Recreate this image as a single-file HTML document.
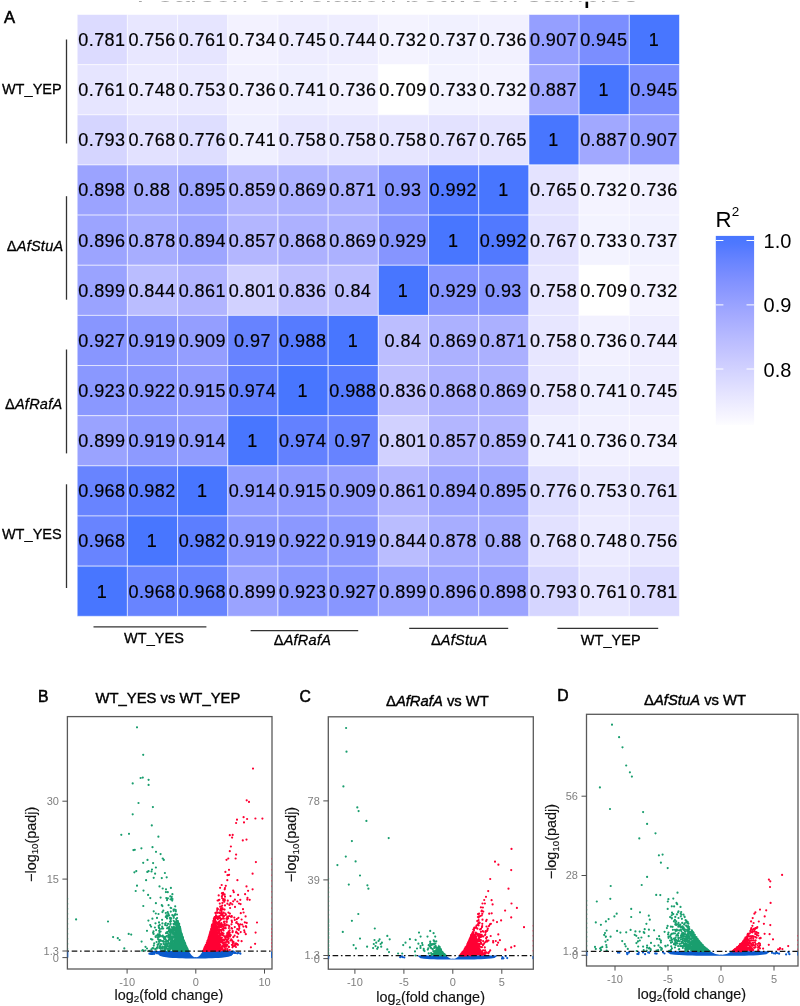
<!DOCTYPE html>
<html lang="en"><head><meta charset="utf-8"><title>Figure: Pearson correlation between samples and volcano plots</title>
<style>html,body{margin:0;padding:0;background:#fff}body{width:800px;height:1006px;overflow:hidden}svg{display:block;will-change:transform}text{font-family:"Liberation Sans", Arial, Helvetica, sans-serif}.cell{font-size:18px;text-anchor:middle;fill:#000;letter-spacing:.45px;stroke:#000;stroke-width:.2}.grp{font-size:14.5px;fill:#000;stroke:#000;stroke-width:.3;letter-spacing:.25px}.it{font-style:italic}.tick{font-size:11px;fill:#7f7f7f}.axt{font-size:14.4px;fill:#111;stroke:#111;stroke-width:.15}.ttl{font-size:14.8px;fill:#000;stroke:#000;stroke-width:.4}.pl{font-size:15.7px;fill:#000;stroke:#000;stroke-width:.55}</style></head><body>
<svg width="800" height="1006" viewBox="0 0 800 1006">
<rect width="800" height="1006" fill="#fff"/>
<text x="387.5" y="1.95" text-anchor="middle" font-size="30" fill="#000">Pearson correlation between samples</text>
<rect x="0" y="0" width="800" height="1.65" fill="#fff"/>
<g stroke="#fff" stroke-width="1" stroke-opacity="0.55">
<rect x="77.20" y="14.50" width="50.19" height="50.15" fill="#dcdbff"/>
<rect x="127.39" y="14.50" width="50.19" height="50.15" fill="#e8e7ff"/>
<rect x="177.58" y="14.50" width="50.19" height="50.15" fill="#e6e5ff"/>
<rect x="227.77" y="14.50" width="50.19" height="50.15" fill="#f3f2ff"/>
<rect x="277.97" y="14.50" width="50.19" height="50.15" fill="#eeedff"/>
<rect x="328.16" y="14.50" width="50.19" height="50.15" fill="#eeedff"/>
<rect x="378.35" y="14.50" width="50.19" height="50.15" fill="#f4f3ff"/>
<rect x="428.54" y="14.50" width="50.19" height="50.15" fill="#f1f1ff"/>
<rect x="478.73" y="14.50" width="50.19" height="50.15" fill="#f2f1ff"/>
<rect x="528.92" y="14.50" width="50.19" height="50.15" fill="#959fff"/>
<rect x="579.12" y="14.50" width="50.19" height="50.15" fill="#7b8eff"/>
<rect x="629.31" y="14.50" width="50.19" height="50.15" fill="#4876ff"/>
<rect x="77.20" y="64.65" width="50.19" height="50.15" fill="#e6e5ff"/>
<rect x="127.39" y="64.65" width="50.19" height="50.15" fill="#ecebff"/>
<rect x="177.58" y="64.65" width="50.19" height="50.15" fill="#eae9ff"/>
<rect x="227.77" y="64.65" width="50.19" height="50.15" fill="#f2f1ff"/>
<rect x="277.97" y="64.65" width="50.19" height="50.15" fill="#efefff"/>
<rect x="328.16" y="64.65" width="50.19" height="50.15" fill="#f2f1ff"/>
<rect x="378.35" y="64.65" width="50.19" height="50.15" fill="#ffffff"/>
<rect x="428.54" y="64.65" width="50.19" height="50.15" fill="#f3f3ff"/>
<rect x="478.73" y="64.65" width="50.19" height="50.15" fill="#f4f3ff"/>
<rect x="528.92" y="64.65" width="50.19" height="50.15" fill="#a1a8ff"/>
<rect x="579.12" y="64.65" width="50.19" height="50.15" fill="#4876ff"/>
<rect x="629.31" y="64.65" width="50.19" height="50.15" fill="#7b8eff"/>
<rect x="77.20" y="114.80" width="50.19" height="50.15" fill="#d5d5ff"/>
<rect x="127.39" y="114.80" width="50.19" height="50.15" fill="#e2e1ff"/>
<rect x="177.58" y="114.80" width="50.19" height="50.15" fill="#dedeff"/>
<rect x="227.77" y="114.80" width="50.19" height="50.15" fill="#efefff"/>
<rect x="277.97" y="114.80" width="50.19" height="50.15" fill="#e7e6ff"/>
<rect x="328.16" y="114.80" width="50.19" height="50.15" fill="#e7e6ff"/>
<rect x="378.35" y="114.80" width="50.19" height="50.15" fill="#e7e6ff"/>
<rect x="428.54" y="114.80" width="50.19" height="50.15" fill="#e3e2ff"/>
<rect x="478.73" y="114.80" width="50.19" height="50.15" fill="#e4e3ff"/>
<rect x="528.92" y="114.80" width="50.19" height="50.15" fill="#4876ff"/>
<rect x="579.12" y="114.80" width="50.19" height="50.15" fill="#a1a8ff"/>
<rect x="629.31" y="114.80" width="50.19" height="50.15" fill="#959fff"/>
<rect x="77.20" y="164.95" width="50.19" height="50.15" fill="#9ba3ff"/>
<rect x="127.39" y="164.95" width="50.19" height="50.15" fill="#a5acff"/>
<rect x="177.58" y="164.95" width="50.19" height="50.15" fill="#9ca5ff"/>
<rect x="227.77" y="164.95" width="50.19" height="50.15" fill="#b2b5ff"/>
<rect x="277.97" y="164.95" width="50.19" height="50.15" fill="#acb1ff"/>
<rect x="328.16" y="164.95" width="50.19" height="50.15" fill="#abb0ff"/>
<rect x="378.35" y="164.95" width="50.19" height="50.15" fill="#8595ff"/>
<rect x="428.54" y="164.95" width="50.19" height="50.15" fill="#5179ff"/>
<rect x="478.73" y="164.95" width="50.19" height="50.15" fill="#4876ff"/>
<rect x="528.92" y="164.95" width="50.19" height="50.15" fill="#e4e3ff"/>
<rect x="579.12" y="164.95" width="50.19" height="50.15" fill="#f4f3ff"/>
<rect x="629.31" y="164.95" width="50.19" height="50.15" fill="#f2f1ff"/>
<rect x="77.20" y="215.10" width="50.19" height="50.15" fill="#9ca4ff"/>
<rect x="127.39" y="215.10" width="50.19" height="50.15" fill="#a7adff"/>
<rect x="177.58" y="215.10" width="50.19" height="50.15" fill="#9da5ff"/>
<rect x="227.77" y="215.10" width="50.19" height="50.15" fill="#b3b6ff"/>
<rect x="277.97" y="215.10" width="50.19" height="50.15" fill="#adb1ff"/>
<rect x="328.16" y="215.10" width="50.19" height="50.15" fill="#acb1ff"/>
<rect x="378.35" y="215.10" width="50.19" height="50.15" fill="#8695ff"/>
<rect x="428.54" y="215.10" width="50.19" height="50.15" fill="#4876ff"/>
<rect x="478.73" y="215.10" width="50.19" height="50.15" fill="#5179ff"/>
<rect x="528.92" y="215.10" width="50.19" height="50.15" fill="#e3e2ff"/>
<rect x="579.12" y="215.10" width="50.19" height="50.15" fill="#f3f3ff"/>
<rect x="629.31" y="215.10" width="50.19" height="50.15" fill="#f1f1ff"/>
<rect x="77.20" y="265.25" width="50.19" height="50.15" fill="#9aa3ff"/>
<rect x="127.39" y="265.25" width="50.19" height="50.15" fill="#babdff"/>
<rect x="177.58" y="265.25" width="50.19" height="50.15" fill="#b1b4ff"/>
<rect x="227.77" y="265.25" width="50.19" height="50.15" fill="#d1d1ff"/>
<rect x="277.97" y="265.25" width="50.19" height="50.15" fill="#bfc0ff"/>
<rect x="328.16" y="265.25" width="50.19" height="50.15" fill="#bcbeff"/>
<rect x="378.35" y="265.25" width="50.19" height="50.15" fill="#4876ff"/>
<rect x="428.54" y="265.25" width="50.19" height="50.15" fill="#8695ff"/>
<rect x="478.73" y="265.25" width="50.19" height="50.15" fill="#8595ff"/>
<rect x="528.92" y="265.25" width="50.19" height="50.15" fill="#e7e6ff"/>
<rect x="579.12" y="265.25" width="50.19" height="50.15" fill="#ffffff"/>
<rect x="629.31" y="265.25" width="50.19" height="50.15" fill="#f4f3ff"/>
<rect x="77.20" y="315.40" width="50.19" height="50.15" fill="#8896ff"/>
<rect x="127.39" y="315.40" width="50.19" height="50.15" fill="#8d9aff"/>
<rect x="177.58" y="315.40" width="50.19" height="50.15" fill="#949eff"/>
<rect x="227.77" y="315.40" width="50.19" height="50.15" fill="#6783ff"/>
<rect x="277.97" y="315.40" width="50.19" height="50.15" fill="#567bff"/>
<rect x="328.16" y="315.40" width="50.19" height="50.15" fill="#4876ff"/>
<rect x="378.35" y="315.40" width="50.19" height="50.15" fill="#bcbeff"/>
<rect x="428.54" y="315.40" width="50.19" height="50.15" fill="#acb1ff"/>
<rect x="478.73" y="315.40" width="50.19" height="50.15" fill="#abb0ff"/>
<rect x="528.92" y="315.40" width="50.19" height="50.15" fill="#e7e6ff"/>
<rect x="579.12" y="315.40" width="50.19" height="50.15" fill="#f2f1ff"/>
<rect x="629.31" y="315.40" width="50.19" height="50.15" fill="#eeedff"/>
<rect x="77.20" y="365.55" width="50.19" height="50.15" fill="#8a98ff"/>
<rect x="127.39" y="365.55" width="50.19" height="50.15" fill="#8b98ff"/>
<rect x="177.58" y="365.55" width="50.19" height="50.15" fill="#909bff"/>
<rect x="227.77" y="365.55" width="50.19" height="50.15" fill="#6381ff"/>
<rect x="277.97" y="365.55" width="50.19" height="50.15" fill="#4876ff"/>
<rect x="328.16" y="365.55" width="50.19" height="50.15" fill="#567bff"/>
<rect x="378.35" y="365.55" width="50.19" height="50.15" fill="#bfc0ff"/>
<rect x="428.54" y="365.55" width="50.19" height="50.15" fill="#adb1ff"/>
<rect x="478.73" y="365.55" width="50.19" height="50.15" fill="#acb1ff"/>
<rect x="528.92" y="365.55" width="50.19" height="50.15" fill="#e7e6ff"/>
<rect x="579.12" y="365.55" width="50.19" height="50.15" fill="#efefff"/>
<rect x="629.31" y="365.55" width="50.19" height="50.15" fill="#eeedff"/>
<rect x="77.20" y="415.70" width="50.19" height="50.15" fill="#9aa3ff"/>
<rect x="127.39" y="415.70" width="50.19" height="50.15" fill="#8d9aff"/>
<rect x="177.58" y="415.70" width="50.19" height="50.15" fill="#909cff"/>
<rect x="227.77" y="415.70" width="50.19" height="50.15" fill="#4876ff"/>
<rect x="277.97" y="415.70" width="50.19" height="50.15" fill="#6381ff"/>
<rect x="328.16" y="415.70" width="50.19" height="50.15" fill="#6783ff"/>
<rect x="378.35" y="415.70" width="50.19" height="50.15" fill="#d1d1ff"/>
<rect x="428.54" y="415.70" width="50.19" height="50.15" fill="#b3b6ff"/>
<rect x="478.73" y="415.70" width="50.19" height="50.15" fill="#b2b5ff"/>
<rect x="528.92" y="415.70" width="50.19" height="50.15" fill="#efefff"/>
<rect x="579.12" y="415.70" width="50.19" height="50.15" fill="#f2f1ff"/>
<rect x="629.31" y="415.70" width="50.19" height="50.15" fill="#f3f2ff"/>
<rect x="77.20" y="465.85" width="50.19" height="50.15" fill="#6884ff"/>
<rect x="127.39" y="465.85" width="50.19" height="50.15" fill="#5c7eff"/>
<rect x="177.58" y="465.85" width="50.19" height="50.15" fill="#4876ff"/>
<rect x="227.77" y="465.85" width="50.19" height="50.15" fill="#909cff"/>
<rect x="277.97" y="465.85" width="50.19" height="50.15" fill="#909bff"/>
<rect x="328.16" y="465.85" width="50.19" height="50.15" fill="#949eff"/>
<rect x="378.35" y="465.85" width="50.19" height="50.15" fill="#b1b4ff"/>
<rect x="428.54" y="465.85" width="50.19" height="50.15" fill="#9da5ff"/>
<rect x="478.73" y="465.85" width="50.19" height="50.15" fill="#9ca5ff"/>
<rect x="528.92" y="465.85" width="50.19" height="50.15" fill="#dedeff"/>
<rect x="579.12" y="465.85" width="50.19" height="50.15" fill="#eae9ff"/>
<rect x="629.31" y="465.85" width="50.19" height="50.15" fill="#e6e5ff"/>
<rect x="77.20" y="516.00" width="50.19" height="50.15" fill="#6884ff"/>
<rect x="127.39" y="516.00" width="50.19" height="50.15" fill="#4876ff"/>
<rect x="177.58" y="516.00" width="50.19" height="50.15" fill="#5c7eff"/>
<rect x="227.77" y="516.00" width="50.19" height="50.15" fill="#8d9aff"/>
<rect x="277.97" y="516.00" width="50.19" height="50.15" fill="#8b98ff"/>
<rect x="328.16" y="516.00" width="50.19" height="50.15" fill="#8d9aff"/>
<rect x="378.35" y="516.00" width="50.19" height="50.15" fill="#babdff"/>
<rect x="428.54" y="516.00" width="50.19" height="50.15" fill="#a7adff"/>
<rect x="478.73" y="516.00" width="50.19" height="50.15" fill="#a5acff"/>
<rect x="528.92" y="516.00" width="50.19" height="50.15" fill="#e2e1ff"/>
<rect x="579.12" y="516.00" width="50.19" height="50.15" fill="#ecebff"/>
<rect x="629.31" y="516.00" width="50.19" height="50.15" fill="#e8e7ff"/>
<rect x="77.20" y="566.15" width="50.19" height="50.15" fill="#4876ff"/>
<rect x="127.39" y="566.15" width="50.19" height="50.15" fill="#6884ff"/>
<rect x="177.58" y="566.15" width="50.19" height="50.15" fill="#6884ff"/>
<rect x="227.77" y="566.15" width="50.19" height="50.15" fill="#9aa3ff"/>
<rect x="277.97" y="566.15" width="50.19" height="50.15" fill="#8a98ff"/>
<rect x="328.16" y="566.15" width="50.19" height="50.15" fill="#8896ff"/>
<rect x="378.35" y="566.15" width="50.19" height="50.15" fill="#9aa3ff"/>
<rect x="428.54" y="566.15" width="50.19" height="50.15" fill="#9ca4ff"/>
<rect x="478.73" y="566.15" width="50.19" height="50.15" fill="#9ba3ff"/>
<rect x="528.92" y="566.15" width="50.19" height="50.15" fill="#d5d5ff"/>
<rect x="579.12" y="566.15" width="50.19" height="50.15" fill="#e6e5ff"/>
<rect x="629.31" y="566.15" width="50.19" height="50.15" fill="#dcdbff"/>
</g>
<g class="cell">
<text x="101.9" y="45.9">0.781</text>
<text x="152.1" y="45.9">0.756</text>
<text x="202.3" y="45.9">0.761</text>
<text x="252.5" y="45.9">0.734</text>
<text x="302.7" y="45.9">0.745</text>
<text x="352.9" y="45.9">0.744</text>
<text x="403.0" y="45.9">0.732</text>
<text x="453.2" y="45.9">0.737</text>
<text x="503.4" y="45.9">0.736</text>
<text x="553.6" y="45.9">0.907</text>
<text x="603.8" y="45.9">0.945</text>
<text x="654.0" y="45.9">1</text>
<text x="101.9" y="96.0">0.761</text>
<text x="152.1" y="96.0">0.748</text>
<text x="202.3" y="96.0">0.753</text>
<text x="252.5" y="96.0">0.736</text>
<text x="302.7" y="96.0">0.741</text>
<text x="352.9" y="96.0">0.736</text>
<text x="403.0" y="96.0">0.709</text>
<text x="453.2" y="96.0">0.733</text>
<text x="503.4" y="96.0">0.732</text>
<text x="553.6" y="96.0">0.887</text>
<text x="603.8" y="96.0">1</text>
<text x="654.0" y="96.0">0.945</text>
<text x="101.9" y="146.2">0.793</text>
<text x="152.1" y="146.2">0.768</text>
<text x="202.3" y="146.2">0.776</text>
<text x="252.5" y="146.2">0.741</text>
<text x="302.7" y="146.2">0.758</text>
<text x="352.9" y="146.2">0.758</text>
<text x="403.0" y="146.2">0.758</text>
<text x="453.2" y="146.2">0.767</text>
<text x="503.4" y="146.2">0.765</text>
<text x="553.6" y="146.2">1</text>
<text x="603.8" y="146.2">0.887</text>
<text x="654.0" y="146.2">0.907</text>
<text x="101.9" y="196.3">0.898</text>
<text x="152.1" y="196.3">0.88</text>
<text x="202.3" y="196.3">0.895</text>
<text x="252.5" y="196.3">0.859</text>
<text x="302.7" y="196.3">0.869</text>
<text x="352.9" y="196.3">0.871</text>
<text x="403.0" y="196.3">0.93</text>
<text x="453.2" y="196.3">0.992</text>
<text x="503.4" y="196.3">1</text>
<text x="553.6" y="196.3">0.765</text>
<text x="603.8" y="196.3">0.732</text>
<text x="654.0" y="196.3">0.736</text>
<text x="101.9" y="246.5">0.896</text>
<text x="152.1" y="246.5">0.878</text>
<text x="202.3" y="246.5">0.894</text>
<text x="252.5" y="246.5">0.857</text>
<text x="302.7" y="246.5">0.868</text>
<text x="352.9" y="246.5">0.869</text>
<text x="403.0" y="246.5">0.929</text>
<text x="453.2" y="246.5">1</text>
<text x="503.4" y="246.5">0.992</text>
<text x="553.6" y="246.5">0.767</text>
<text x="603.8" y="246.5">0.733</text>
<text x="654.0" y="246.5">0.737</text>
<text x="101.9" y="296.6">0.899</text>
<text x="152.1" y="296.6">0.844</text>
<text x="202.3" y="296.6">0.861</text>
<text x="252.5" y="296.6">0.801</text>
<text x="302.7" y="296.6">0.836</text>
<text x="352.9" y="296.6">0.84</text>
<text x="403.0" y="296.6">1</text>
<text x="453.2" y="296.6">0.929</text>
<text x="503.4" y="296.6">0.93</text>
<text x="553.6" y="296.6">0.758</text>
<text x="603.8" y="296.6">0.709</text>
<text x="654.0" y="296.6">0.732</text>
<text x="101.9" y="346.8">0.927</text>
<text x="152.1" y="346.8">0.919</text>
<text x="202.3" y="346.8">0.909</text>
<text x="252.5" y="346.8">0.97</text>
<text x="302.7" y="346.8">0.988</text>
<text x="352.9" y="346.8">1</text>
<text x="403.0" y="346.8">0.84</text>
<text x="453.2" y="346.8">0.869</text>
<text x="503.4" y="346.8">0.871</text>
<text x="553.6" y="346.8">0.758</text>
<text x="603.8" y="346.8">0.736</text>
<text x="654.0" y="346.8">0.744</text>
<text x="101.9" y="396.9">0.923</text>
<text x="152.1" y="396.9">0.922</text>
<text x="202.3" y="396.9">0.915</text>
<text x="252.5" y="396.9">0.974</text>
<text x="302.7" y="396.9">1</text>
<text x="352.9" y="396.9">0.988</text>
<text x="403.0" y="396.9">0.836</text>
<text x="453.2" y="396.9">0.868</text>
<text x="503.4" y="396.9">0.869</text>
<text x="553.6" y="396.9">0.758</text>
<text x="603.8" y="396.9">0.741</text>
<text x="654.0" y="396.9">0.745</text>
<text x="101.9" y="447.1">0.899</text>
<text x="152.1" y="447.1">0.919</text>
<text x="202.3" y="447.1">0.914</text>
<text x="252.5" y="447.1">1</text>
<text x="302.7" y="447.1">0.974</text>
<text x="352.9" y="447.1">0.97</text>
<text x="403.0" y="447.1">0.801</text>
<text x="453.2" y="447.1">0.857</text>
<text x="503.4" y="447.1">0.859</text>
<text x="553.6" y="447.1">0.741</text>
<text x="603.8" y="447.1">0.736</text>
<text x="654.0" y="447.1">0.734</text>
<text x="101.9" y="497.2">0.968</text>
<text x="152.1" y="497.2">0.982</text>
<text x="202.3" y="497.2">1</text>
<text x="252.5" y="497.2">0.914</text>
<text x="302.7" y="497.2">0.915</text>
<text x="352.9" y="497.2">0.909</text>
<text x="403.0" y="497.2">0.861</text>
<text x="453.2" y="497.2">0.894</text>
<text x="503.4" y="497.2">0.895</text>
<text x="553.6" y="497.2">0.776</text>
<text x="603.8" y="497.2">0.753</text>
<text x="654.0" y="497.2">0.761</text>
<text x="101.9" y="547.4">0.968</text>
<text x="152.1" y="547.4">1</text>
<text x="202.3" y="547.4">0.982</text>
<text x="252.5" y="547.4">0.919</text>
<text x="302.7" y="547.4">0.922</text>
<text x="352.9" y="547.4">0.919</text>
<text x="403.0" y="547.4">0.844</text>
<text x="453.2" y="547.4">0.878</text>
<text x="503.4" y="547.4">0.88</text>
<text x="553.6" y="547.4">0.768</text>
<text x="603.8" y="547.4">0.748</text>
<text x="654.0" y="547.4">0.756</text>
<text x="101.9" y="597.5">1</text>
<text x="152.1" y="597.5">0.968</text>
<text x="202.3" y="597.5">0.968</text>
<text x="252.5" y="597.5">0.899</text>
<text x="302.7" y="597.5">0.923</text>
<text x="352.9" y="597.5">0.927</text>
<text x="403.0" y="597.5">0.899</text>
<text x="453.2" y="597.5">0.896</text>
<text x="503.4" y="597.5">0.898</text>
<text x="553.6" y="597.5">0.793</text>
<text x="603.8" y="597.5">0.761</text>
<text x="654.0" y="597.5">0.781</text>
</g>
<g stroke="#333" stroke-width="1.3" fill="none">
<path d="M66.5 39.5V143.5"/>
<path d="M66.5 196.2V299.7"/>
<path d="M66.5 349.5V453.4"/>
<path d="M66.5 484.3V588.0"/>
<path d="M93.5 626.9H206.4"/>
<path d="M250.6 630.6H358.2"/>
<path d="M409.2 628.4H508.2"/>
<path d="M557.4 628.4H658.2"/>
</g>
<g class="grp">
<text letter-spacing=".05" x="61.8" y="93.8" text-anchor="end">WT_YEP</text>
<text x="63.4" y="251.1" text-anchor="end">Δ<tspan class="it">AfStuA</tspan></text>
<text x="62.4" y="409.3" text-anchor="end">Δ<tspan class="it">AfRafA</tspan></text>
<text letter-spacing=".05" x="61.8" y="538.9" text-anchor="end">WT_YES</text>
<text letter-spacing=".05" x="154" y="643" text-anchor="middle">WT_YES</text>
<text x="302.4" y="644.9" text-anchor="middle">Δ<tspan class="it">AfRafA</tspan></text>
<text x="459.2" y="644.9" text-anchor="middle">Δ<tspan class="it">AfStuA</tspan></text>
<text letter-spacing=".05" x="610.8" y="644.9" text-anchor="middle">WT_YEP</text>
</g>
<g class="pl">
<text x="3.9" y="22.9" font-size="16.6">A</text>
<text x="37.9" y="701.6">B</text>
<text x="299.5" y="701.8">C</text>
<text x="557.2" y="701">D</text>
</g>
<defs><linearGradient id="lg" x1="0" y1="0" x2="0" y2="1">
<stop offset="0.0000" stop-color="#4876ff"/>
<stop offset="0.0417" stop-color="#4e78ff"/>
<stop offset="0.0833" stop-color="#5b7dff"/>
<stop offset="0.1250" stop-color="#6683ff"/>
<stop offset="0.1667" stop-color="#7088ff"/>
<stop offset="0.2083" stop-color="#7a8dff"/>
<stop offset="0.2500" stop-color="#8393ff"/>
<stop offset="0.2917" stop-color="#8b98ff"/>
<stop offset="0.3333" stop-color="#939eff"/>
<stop offset="0.3750" stop-color="#9ba4ff"/>
<stop offset="0.4167" stop-color="#a3a9ff"/>
<stop offset="0.4583" stop-color="#aaafff"/>
<stop offset="0.5000" stop-color="#b1b5ff"/>
<stop offset="0.5417" stop-color="#b8bbff"/>
<stop offset="0.5833" stop-color="#bfc0ff"/>
<stop offset="0.6250" stop-color="#c5c6ff"/>
<stop offset="0.6667" stop-color="#ccccff"/>
<stop offset="0.7083" stop-color="#d2d2ff"/>
<stop offset="0.7500" stop-color="#d8d8ff"/>
<stop offset="0.7917" stop-color="#dfdeff"/>
<stop offset="0.8333" stop-color="#e5e4ff"/>
<stop offset="0.8750" stop-color="#ebeaff"/>
<stop offset="0.9167" stop-color="#f1f0ff"/>
<stop offset="0.9583" stop-color="#f7f6ff"/>
<stop offset="1.0000" stop-color="#fdfdff"/>
</linearGradient></defs>
<rect x="715.8" y="235.9" width="38.3" height="189.3" fill="url(#lg)"/>
<g stroke="#fff" stroke-width="1">
<path d="M715.8 240.5h7.6M754.1 240.5h-7.6"/>
<path d="M715.8 304.9h7.6M754.1 304.9h-7.6"/>
<path d="M715.8 369.0h7.6M754.1 369.0h-7.6"/>
</g>
<text x="715.6" y="226.6" font-size="22.2" fill="#000">R<tspan font-size="13.5" dy="-10.2">2</tspan></text>
<g font-size="20" fill="#000">
<text x="763.6" y="248.0">1.0</text>
<text x="763.6" y="312.4">0.9</text>
<text x="763.6" y="376.5">0.8</text>
</g>
<g>
<polygon fill="#199e6e" points="188.7,951.0 187.5,948.8 186.5,946.6 185.6,944.4 184.8,942.2 184.0,939.9 183.3,937.7 182.6,935.5 182.0,933.3 181.4,931.1 180.8,928.9 180.2,926.7 179.7,924.5 179.1,922.2 178.6,920.0 176.9,920.0 176.6,922.2 176.3,924.5 176.0,926.7 175.7,928.9 175.4,931.1 175.0,933.3 174.7,935.5 174.4,937.7 174.0,939.9 173.6,942.2 173.3,944.4 172.8,946.6 172.4,948.8 171.8,951.0"/>
<polygon fill="#ff0033" points="202.9,951.0 204.2,948.5 205.3,946.0 206.3,943.5 207.2,941.0 208.0,938.5 208.8,935.9 209.6,933.4 210.3,930.9 210.9,928.4 211.6,925.9 212.2,923.4 212.8,920.9 213.4,918.4 213.9,915.9 215.7,915.9 216.0,918.4 216.4,920.9 216.7,923.4 217.0,925.9 217.4,928.4 217.7,930.9 218.1,933.4 218.4,935.9 218.8,938.5 219.2,941.0 219.6,943.5 220.1,946.0 220.6,948.5 221.2,951.0"/>
<polygon fill="#0a5acd" points="156.3,951.0 188.7,951.0 189.6,952.5 190.5,953.8 191.4,954.9 192.2,955.8 193.1,956.5 194.0,957.0 194.9,957.3 195.8,957.1 196.7,957.3 197.6,957.0 198.5,956.5 199.4,955.8 200.2,954.9 201.1,953.8 202.0,952.5 202.9,951.0 235.0,951.0 235.0,951.0 231.7,955.8 228.4,956.7 225.1,957.3 221.8,957.7 218.6,958.0 215.3,958.1 212.0,958.3 208.7,958.3 205.5,958.4 202.2,958.4 198.9,958.4 195.6,958.4 192.4,958.4 189.1,958.4 185.8,958.4 182.5,958.3 179.2,958.3 176.0,958.1 172.7,958.0 169.4,957.7 166.1,957.3 162.9,956.7 159.6,955.8 156.3,951.0"/>
<path d="M153.1 953.9h0M154.5 951.8h0M157.3 952.7h0M150.5 953.8h0M151.7 952.1h0M155.6 952.2h0M153.2 952.8h0M160.6 953.1h0M154.4 953.8h0M160.5 954.0h0M149.4 953.7h0M158.7 953.5h0M158.1 953.3h0M151.6 954.0h0M158.9 952.2h0M155.7 952.1h0M152.0 953.2h0M150.8 951.6h0M156.7 953.2h0M160.3 951.7h0M152.9 951.9h0M160.4 953.7h0M231.8 952.8h0M237.7 953.2h0M235.5 953.0h0M232.5 951.8h0M231.9 952.9h0M231.7 953.9h0M233.4 951.6h0M237.3 953.3h0M238.3 952.8h0M240.2 953.4h0M240.4 953.7h0M233.2 952.7h0M232.4 953.2h0M234.4 952.8h0" stroke="#0a5acd" stroke-width="2.2" stroke-linecap="round" fill="none"/>
<path d="M181.5 944.1h0M182.0 943.8h0M184.6 948.7h0M181.2 933.0h0M182.4 949.9h0M175.4 950.5h0M178.8 938.9h0M186.3 950.8h0M186.5 948.6h0M182.5 943.9h0M180.1 942.6h0M180.3 938.6h0M173.3 930.1h0M185.9 948.0h0M179.0 934.4h0M172.6 945.4h0M187.5 951.0h0M168.0 943.8h0M184.6 950.1h0M186.4 947.4h0M165.8 913.0h0M186.7 947.8h0M180.4 932.8h0M184.3 944.2h0M184.3 949.4h0M184.7 944.8h0M163.3 910.6h0M178.3 926.3h0M174.3 929.0h0M172.0 899.2h0M179.8 934.1h0M187.6 950.1h0M183.5 947.8h0M171.5 944.1h0M174.8 941.2h0M179.1 949.1h0M185.9 947.7h0M176.2 918.8h0M173.9 926.6h0M187.4 949.7h0M182.5 947.9h0M175.8 931.2h0M183.1 948.8h0M183.8 948.0h0M182.0 940.1h0M187.2 948.4h0M185.2 944.3h0M182.7 945.7h0M176.8 945.9h0M177.4 938.8h0M187.7 949.3h0M170.6 923.5h0M185.2 950.8h0M180.2 936.0h0M185.3 950.1h0M170.3 924.7h0M167.3 933.0h0M170.8 937.8h0M178.8 944.8h0M179.7 941.3h0M179.9 941.0h0M158.2 939.4h0M179.7 936.1h0M181.2 941.1h0M183.7 950.0h0M180.9 940.5h0M179.2 937.3h0M177.0 922.1h0M182.2 946.9h0M179.1 948.9h0M176.0 944.3h0M182.2 938.5h0M166.7 932.3h0M182.3 945.5h0M185.0 949.3h0M172.6 929.4h0M185.9 947.3h0M185.7 947.3h0M180.4 939.8h0M156.1 930.1h0M187.6 950.1h0M184.3 950.5h0M180.6 946.8h0M185.8 949.3h0M179.6 930.8h0M185.1 950.5h0M178.2 939.6h0M168.4 914.7h0M184.5 943.6h0M179.8 943.7h0M184.9 947.4h0M180.2 942.6h0M179.1 945.3h0M179.0 950.0h0M185.5 949.4h0M175.9 923.5h0M169.3 926.9h0M180.8 943.9h0M173.3 936.4h0M181.2 936.6h0M143.3 906.0h0M179.2 933.1h0M178.0 928.9h0M181.8 944.4h0M184.7 943.4h0M183.1 950.2h0M180.3 946.3h0M184.9 949.2h0M173.4 930.1h0M171.9 943.3h0M184.4 948.1h0M177.0 936.1h0M175.8 929.8h0M178.0 945.5h0M180.0 948.3h0M181.0 942.5h0M181.3 942.2h0M177.5 950.7h0M179.0 945.2h0M180.0 943.3h0M181.8 942.2h0M176.5 921.7h0M185.5 949.4h0M175.2 924.6h0M183.6 948.6h0M182.8 949.4h0M186.1 948.5h0M184.5 946.6h0M183.7 949.7h0M183.7 942.8h0M182.1 942.4h0M182.6 944.9h0M183.5 948.4h0M175.8 942.4h0M178.7 928.8h0M167.6 932.0h0M176.6 946.7h0M179.0 926.0h0M181.2 936.2h0M177.5 930.6h0M185.8 949.5h0M187.5 950.8h0M155.5 923.3h0M178.5 943.0h0M182.2 937.8h0M187.6 949.7h0M181.2 942.7h0M186.2 948.7h0M150.3 898.1h0M178.5 950.3h0M179.8 934.5h0M182.2 942.7h0M184.5 950.8h0M185.0 948.7h0M184.9 945.1h0M184.5 942.8h0M174.1 932.5h0M181.1 939.7h0M166.5 943.0h0M177.6 947.6h0M172.3 933.8h0M165.2 925.1h0M173.9 934.4h0M182.3 936.4h0M185.2 943.8h0M178.8 939.4h0M169.8 918.0h0M179.0 938.7h0M177.3 939.3h0M175.2 906.3h0M180.8 935.7h0M187.5 950.4h0M186.6 949.8h0M180.9 941.9h0M159.1 941.4h0M180.8 932.1h0M181.6 934.7h0M185.4 949.0h0M181.0 943.2h0M173.8 917.8h0M181.9 940.6h0M179.3 938.8h0M181.1 936.6h0M186.8 947.8h0M179.2 935.0h0M181.7 935.2h0M177.1 918.0h0M182.5 944.6h0M183.9 947.8h0M178.9 936.4h0M175.9 931.6h0M180.9 939.8h0M185.9 950.4h0M180.7 944.3h0M183.5 947.5h0M177.3 933.8h0M167.6 916.2h0M180.2 949.6h0M181.6 939.8h0M178.7 937.8h0M176.8 939.6h0M172.2 947.7h0M180.0 926.9h0M184.5 947.4h0M185.4 949.8h0M184.2 950.0h0M181.4 939.6h0M185.4 948.3h0M180.6 930.2h0M175.4 932.1h0M185.2 948.3h0M178.5 932.0h0M170.5 899.3h0M168.3 935.3h0M185.3 945.7h0M187.6 950.1h0M180.0 943.4h0M181.6 933.9h0M183.0 938.6h0M176.3 936.3h0M185.9 949.2h0M185.3 945.8h0M172.2 941.4h0M174.9 923.1h0M185.0 946.8h0M162.1 919.8h0M184.2 945.9h0M183.9 945.3h0M176.8 941.5h0M176.0 930.3h0M170.3 934.8h0M186.0 950.7h0M168.2 941.4h0M181.0 932.4h0M181.4 933.3h0M170.1 935.7h0M182.7 939.5h0M182.2 939.0h0M177.7 934.4h0M183.8 945.3h0M179.7 938.3h0M175.8 936.4h0M178.2 945.0h0M170.1 929.1h0M158.7 925.9h0M178.9 942.5h0M183.4 944.7h0M156.5 935.6h0M186.6 948.9h0M173.4 947.1h0M185.8 946.8h0M181.0 933.9h0M181.2 944.0h0M188.0 950.6h0M185.9 948.2h0M183.0 940.7h0M185.7 947.2h0M183.1 946.7h0M183.5 943.5h0M176.1 923.0h0M172.3 915.1h0M178.7 950.4h0M182.7 945.4h0M169.2 947.3h0M186.8 947.9h0M179.3 945.7h0M183.3 940.4h0M184.9 946.6h0M179.9 942.7h0M184.0 947.5h0M181.8 934.2h0M170.2 929.6h0M182.2 947.4h0M182.0 943.5h0M174.9 940.9h0M178.3 933.2h0M182.3 949.9h0M181.2 942.0h0M178.8 930.6h0M186.8 950.1h0M180.2 936.7h0M186.1 949.7h0M162.4 912.1h0M186.8 950.9h0M183.9 947.9h0M173.8 950.9h0M183.8 948.4h0M182.8 945.6h0M184.1 946.3h0M185.8 947.6h0M174.8 946.4h0M180.2 936.3h0M187.6 949.9h0M176.9 938.1h0M178.1 945.1h0M187.2 949.9h0M186.1 949.5h0M174.9 922.1h0M176.0 939.1h0M184.2 945.4h0M186.7 950.8h0M161.8 905.2h0M183.9 940.3h0M182.2 946.2h0M182.8 945.6h0M175.6 931.1h0M168.8 934.4h0M183.5 946.0h0M159.5 936.7h0M173.2 936.7h0M170.7 917.9h0M186.9 950.0h0M180.6 937.4h0M183.7 945.9h0M174.7 909.5h0M180.7 942.0h0M177.5 947.5h0M175.9 931.6h0M178.8 931.1h0M183.5 947.9h0M184.7 948.7h0M187.3 950.6h0M170.3 919.0h0M176.4 938.3h0M176.5 940.8h0M185.1 948.5h0M182.5 945.4h0M183.3 942.6h0M182.4 946.4h0M182.2 938.3h0M180.9 940.5h0M177.8 939.8h0M178.3 935.1h0M169.0 930.2h0M181.7 944.5h0M181.3 942.5h0M176.9 924.2h0M169.9 936.2h0M177.4 940.6h0M183.9 940.7h0M182.4 944.2h0M184.4 950.4h0M185.6 947.9h0M186.4 947.9h0M167.7 912.2h0M178.8 944.8h0M177.4 935.3h0M182.9 949.8h0M170.9 942.2h0M185.6 947.8h0M180.7 950.3h0M183.8 945.2h0M187.8 950.5h0M183.5 946.8h0M170.6 907.8h0M176.5 947.0h0M180.8 948.5h0M184.1 943.7h0M183.7 948.4h0M179.8 926.8h0M180.3 936.2h0M172.4 927.7h0M168.3 937.4h0M187.2 950.1h0M181.8 936.8h0M182.7 947.9h0M181.3 945.7h0M182.9 940.8h0M170.9 921.2h0M182.8 939.3h0M182.2 944.4h0M185.4 950.5h0M181.0 947.7h0M181.3 947.2h0M183.8 947.3h0M150.2 925.0h0M179.2 943.9h0M173.7 920.8h0M179.6 941.7h0M175.6 938.7h0M176.4 943.0h0M171.1 942.6h0M180.7 933.7h0M184.6 947.9h0M172.8 933.4h0M183.8 943.3h0M184.7 943.1h0M177.9 936.7h0M186.9 948.7h0M182.4 943.2h0M181.0 947.5h0M173.5 923.8h0M180.3 933.1h0M186.3 946.7h0M180.2 939.9h0M183.5 940.9h0M186.5 948.9h0M173.5 937.6h0M186.4 950.3h0M174.6 948.2h0M178.4 943.3h0M185.3 949.2h0M187.1 950.5h0M185.9 949.3h0M185.4 944.7h0M174.8 934.5h0M183.9 947.7h0M173.6 943.9h0M170.5 946.3h0M186.5 950.5h0M186.6 950.3h0M174.4 928.2h0M182.8 943.9h0M179.8 945.5h0M185.3 946.1h0M186.7 949.0h0M183.6 943.8h0M173.0 938.0h0M185.4 945.5h0M184.9 945.9h0M186.2 948.7h0M170.0 921.6h0M185.1 945.9h0M180.1 945.9h0M179.2 923.9h0M185.2 945.5h0M180.5 946.5h0M186.6 950.4h0M187.6 950.5h0M187.1 950.6h0M183.7 942.0h0M181.8 947.6h0M186.8 949.2h0M180.0 936.8h0M178.8 928.1h0M185.4 946.2h0M185.2 950.7h0M159.4 932.1h0M170.4 938.3h0M177.0 937.7h0M178.4 927.8h0M186.1 949.9h0M186.6 950.3h0M183.6 943.2h0M183.2 945.1h0M182.1 938.5h0M184.1 946.2h0M178.3 941.0h0M182.8 937.2h0M185.8 945.8h0M185.9 950.4h0M183.6 943.8h0M186.7 950.7h0M182.8 941.5h0M184.9 948.7h0M173.9 915.7h0M167.0 918.4h0M181.2 939.9h0M179.7 947.3h0M176.3 945.5h0M185.3 949.3h0M171.1 945.9h0M186.2 948.6h0M186.9 947.9h0M184.6 945.3h0M179.4 939.0h0M175.7 941.6h0M184.3 946.4h0M181.4 946.7h0M165.5 937.8h0M184.1 949.0h0M182.3 941.5h0M178.2 935.2h0M185.5 947.7h0M184.4 942.8h0M187.5 950.2h0M185.6 949.6h0M184.1 943.5h0M180.0 927.7h0M177.7 942.9h0M181.0 936.6h0M184.5 946.5h0M169.8 929.9h0M180.3 944.8h0M171.3 930.7h0M181.5 945.6h0M187.1 948.7h0M152.4 918.7h0M180.1 937.7h0M174.3 945.2h0M184.4 950.4h0M187.0 950.5h0M186.6 949.5h0M181.5 942.1h0M180.0 946.8h0M184.6 947.2h0M159.7 934.4h0M178.6 937.5h0M187.0 949.2h0M176.3 920.0h0M186.6 949.5h0M183.5 941.5h0M185.7 947.3h0M185.0 945.8h0M181.1 950.2h0M187.3 950.1h0M180.0 948.4h0M178.8 944.9h0M185.4 950.3h0M181.9 939.9h0M181.8 936.3h0M187.1 948.9h0M180.5 945.9h0M184.9 942.8h0M177.0 914.5h0M171.9 932.0h0M178.8 945.2h0M158.0 934.3h0M173.6 916.7h0M178.2 947.7h0M183.0 941.2h0M181.4 945.7h0M182.0 945.8h0M177.8 947.3h0M186.4 949.9h0M182.2 948.3h0M182.3 938.0h0M186.1 949.2h0M186.3 950.9h0M183.0 946.6h0M179.6 948.4h0M181.3 935.0h0M171.7 944.6h0M180.7 945.0h0M182.1 947.4h0M185.6 946.6h0M172.5 899.0h0M181.8 945.6h0M172.9 940.1h0M180.2 939.7h0M181.6 949.6h0M180.6 944.1h0M184.7 945.5h0M181.1 941.3h0M180.7 939.7h0M171.3 940.7h0M163.5 943.8h0M180.9 946.7h0M177.5 945.1h0M167.9 898.3h0M174.1 930.1h0M171.3 930.8h0M181.4 950.2h0M180.7 947.7h0M175.5 942.2h0M182.9 947.3h0M177.2 941.8h0M180.8 947.8h0M177.2 934.2h0M180.7 932.8h0M187.7 949.8h0M169.1 928.1h0M185.3 948.7h0M172.6 940.0h0M172.2 900.6h0M171.8 927.1h0M180.6 938.4h0M184.6 946.3h0M183.0 947.3h0M186.7 948.7h0M184.8 943.8h0M171.2 918.7h0M168.5 948.5h0M180.1 935.8h0M184.9 945.0h0M178.3 944.7h0M182.0 944.0h0M181.4 946.1h0M182.4 941.1h0M179.1 947.1h0M173.6 944.1h0M177.3 935.5h0M186.4 950.2h0M172.3 944.4h0M177.2 937.4h0M184.8 944.9h0M184.8 947.7h0M169.7 931.4h0M183.8 942.0h0M186.5 949.9h0M176.7 936.3h0M159.7 924.9h0M180.6 939.6h0M183.4 943.9h0M166.5 940.4h0M178.4 945.3h0M181.4 945.1h0M171.9 898.7h0M185.7 949.2h0M187.2 950.0h0M177.2 939.9h0M173.4 932.0h0M185.8 949.5h0M161.9 928.6h0M186.9 950.7h0M183.9 942.3h0M183.9 946.9h0M183.9 941.4h0M183.1 942.8h0M185.1 947.8h0M184.8 948.2h0M177.2 944.0h0M179.3 929.3h0M182.2 942.5h0M159.2 928.2h0M187.7 950.9h0M175.8 935.9h0M184.7 942.4h0M173.4 946.9h0M180.4 929.5h0M187.2 950.1h0M176.1 922.3h0M172.1 938.9h0M180.8 941.4h0M184.1 945.3h0M185.1 947.6h0M183.2 943.6h0M184.9 944.2h0M185.6 950.3h0M184.9 945.2h0M184.4 945.7h0M181.9 948.0h0M186.5 950.9h0M185.4 950.9h0M182.4 945.8h0M182.8 946.9h0M183.6 946.7h0M183.2 940.1h0M183.7 948.7h0M162.8 946.7h0M174.8 948.4h0M157.8 937.7h0M174.6 950.5h0M173.8 943.4h0M184.3 943.1h0M170.9 940.1h0M175.8 940.6h0M169.5 946.5h0M179.4 946.4h0M172.3 948.0h0M170.0 950.0h0M184.2 944.8h0M152.6 948.1h0M181.8 949.2h0M180.4 936.8h0M185.7 946.0h0M173.3 947.3h0M171.3 945.7h0M181.7 939.3h0M178.8 949.6h0M184.8 947.7h0M175.5 944.0h0M161.1 944.4h0M176.3 944.2h0M173.5 947.9h0M173.0 948.6h0M186.3 948.7h0M172.0 947.3h0M173.6 943.5h0M170.3 932.3h0M172.7 949.0h0M166.3 948.2h0M172.2 941.7h0M184.7 947.8h0M158.8 939.7h0M179.8 939.1h0M173.8 945.0h0M170.1 939.7h0M159.2 930.9h0M154.9 927.5h0M160.6 935.8h0M187.0 948.8h0M183.6 948.7h0M181.3 949.9h0M183.5 948.4h0M179.0 934.9h0M166.6 936.0h0M172.5 940.7h0M153.5 931.4h0M161.9 950.6h0M179.3 939.0h0M171.3 947.4h0M175.4 945.5h0M155.7 948.9h0M159.9 929.0h0M179.6 932.9h0M164.3 948.1h0M183.9 942.5h0M156.6 942.0h0M184.7 945.3h0M179.9 949.4h0M183.0 945.6h0M178.7 946.8h0M175.5 945.8h0M183.7 944.6h0M172.9 947.8h0M180.3 929.7h0M169.7 944.0h0M179.3 926.0h0M163.7 937.2h0M166.4 944.2h0M187.6 951.0h0M186.4 947.7h0M177.6 948.6h0M174.1 947.8h0M164.8 948.9h0M184.8 949.7h0M177.3 939.1h0M180.5 942.7h0M164.8 948.7h0M183.6 948.9h0M167.3 940.9h0M184.4 945.0h0M184.7 948.8h0M166.4 915.3h0M184.7 947.2h0M176.9 939.1h0M182.6 947.3h0M174.1 940.5h0M182.0 950.9h0M164.7 950.5h0M165.2 949.2h0M172.6 930.1h0M174.9 949.8h0M185.9 949.3h0M159.0 934.3h0M180.7 946.3h0M156.9 948.5h0M183.4 949.4h0M184.9 948.1h0M175.7 945.2h0M172.0 939.8h0M185.8 950.3h0M170.8 948.1h0M183.7 945.5h0M180.7 944.5h0M165.8 923.0h0M172.3 936.4h0M174.9 950.8h0M186.7 950.6h0M180.7 940.6h0M170.5 949.1h0M176.2 942.8h0M185.2 950.9h0M176.9 948.6h0M174.1 946.0h0M162.0 947.6h0M177.1 946.8h0M159.3 947.9h0M184.9 948.3h0M178.2 948.9h0M173.9 928.1h0M178.3 941.9h0M153.8 945.6h0M186.6 947.3h0M177.8 948.6h0M184.9 946.2h0M173.0 945.9h0M180.9 948.4h0M178.9 938.5h0M178.4 938.5h0M178.8 945.5h0M167.1 928.3h0M166.8 948.3h0M184.5 947.7h0M155.7 937.0h0M159.6 931.6h0M159.8 941.3h0M170.4 949.5h0M160.6 948.8h0M180.3 945.4h0M177.8 950.5h0M163.6 941.8h0M183.1 943.4h0M168.6 950.5h0M151.0 939.0h0M175.6 943.1h0M186.6 947.6h0M179.1 938.6h0M165.2 939.4h0M183.5 948.0h0M168.4 942.9h0M157.1 947.9h0M153.5 948.3h0M177.4 939.4h0M177.4 945.2h0M169.3 935.6h0M179.8 940.4h0M181.8 944.2h0M187.7 950.4h0M183.3 946.9h0M177.2 926.1h0M163.8 942.0h0M182.9 945.2h0M186.6 950.5h0M173.2 948.5h0M170.5 948.0h0M175.4 941.5h0M181.3 950.1h0M181.1 933.9h0M174.3 948.6h0M182.3 949.9h0M176.1 940.4h0M171.1 942.1h0M182.5 941.3h0M186.1 946.0h0M179.3 947.1h0M184.4 950.0h0M170.2 935.4h0M160.9 947.0h0M164.0 938.8h0M180.1 947.5h0M176.0 948.0h0M170.6 948.2h0M159.9 946.0h0M159.9 947.3h0M175.3 939.0h0M178.6 940.5h0M158.9 927.7h0M173.7 946.6h0M171.4 939.5h0M172.9 947.7h0M169.2 946.8h0M181.7 943.6h0M170.8 911.6h0M179.6 950.5h0M174.5 936.9h0M163.1 941.3h0M181.4 944.3h0M174.9 944.6h0M172.7 949.9h0M177.1 945.2h0M154.2 943.4h0M169.1 948.3h0M178.4 949.8h0M184.5 950.4h0M159.1 941.9h0M182.3 948.5h0M183.8 950.8h0M183.8 949.7h0M175.4 929.9h0M186.8 950.0h0M179.4 940.5h0M183.8 941.7h0M178.3 935.7h0M178.2 941.6h0M180.7 949.1h0M166.0 946.5h0M184.7 949.0h0M164.9 946.6h0M182.0 942.2h0M180.5 941.5h0M177.8 935.0h0M174.2 949.0h0M183.3 941.7h0M174.5 944.9h0M183.8 950.6h0M158.8 943.9h0M187.6 950.2h0M184.3 949.5h0M178.8 941.7h0M178.1 948.3h0M183.5 947.5h0M187.1 948.6h0M181.3 944.0h0M172.0 936.4h0M162.5 948.1h0M170.2 943.4h0M179.2 945.6h0M177.9 945.5h0M165.5 945.1h0M187.3 949.0h0M173.2 950.7h0M184.5 948.4h0M163.7 936.9h0M174.8 940.4h0M157.6 944.7h0M162.4 923.4h0M164.9 948.1h0M175.0 914.9h0M186.9 950.9h0M183.2 943.1h0M169.3 929.2h0M173.7 944.0h0M157.7 946.1h0M181.2 949.1h0M177.0 947.8h0M185.9 950.9h0M186.5 949.1h0M180.5 943.1h0M163.3 941.0h0M173.4 950.7h0M187.4 949.2h0M179.5 937.3h0M166.5 947.2h0M181.2 941.2h0M173.6 924.1h0M160.6 931.6h0M184.9 949.4h0M162.3 936.5h0M170.7 942.4h0M174.4 941.2h0M179.8 945.7h0M187.7 950.6h0M182.2 947.4h0M167.6 945.6h0M184.9 948.9h0M168.9 950.4h0M180.8 949.4h0M166.2 943.5h0M183.2 941.0h0M186.2 949.8h0M168.6 950.8h0M187.4 950.3h0M185.0 948.4h0M177.0 949.3h0M179.9 949.6h0M179.2 949.7h0M179.3 947.2h0M182.2 943.6h0M168.0 950.9h0M177.1 947.1h0M182.9 949.9h0M172.2 947.4h0M185.2 950.7h0M160.5 940.2h0M177.2 930.9h0M158.3 936.1h0M148.4 920.6h0M175.7 947.5h0M166.0 933.2h0M164.8 936.8h0M182.5 949.8h0M172.9 949.9h0M180.6 943.3h0M182.3 943.7h0M182.2 948.6h0M168.1 949.4h0M180.4 944.7h0M188.5 951.0h0M183.8 943.1h0M180.2 948.9h0M181.9 947.1h0M172.1 946.2h0M187.4 949.6h0M174.0 949.4h0M182.3 950.7h0M172.9 942.0h0M185.2 947.4h0M186.1 950.8h0M187.0 949.6h0M178.4 949.9h0M185.2 947.7h0M162.8 935.5h0M170.6 948.4h0M185.9 946.1h0M177.2 948.6h0M185.2 945.4h0M169.4 943.7h0M178.0 938.7h0M165.3 945.5h0M168.8 931.3h0M180.2 945.9h0M183.6 950.6h0M182.4 942.2h0M175.2 946.7h0M182.0 946.4h0M177.9 933.9h0M170.5 934.1h0M165.5 949.9h0M177.5 950.5h0M175.2 946.4h0M173.0 929.7h0M182.0 939.2h0M175.7 942.8h0M180.0 938.8h0M176.7 943.8h0M176.8 931.6h0M163.0 950.4h0M179.7 943.5h0M153.1 932.8h0M183.9 945.5h0M184.7 948.0h0M177.5 939.9h0M165.6 941.7h0M187.1 950.0h0M171.6 937.4h0M181.5 947.5h0M159.0 922.4h0M171.0 941.6h0M169.0 939.6h0M168.1 923.8h0M180.6 947.3h0M178.8 942.9h0M155.6 936.4h0M174.5 936.6h0M183.4 948.7h0M186.3 950.0h0M180.4 933.7h0M179.6 939.9h0M179.6 947.6h0M181.1 948.3h0M183.5 940.8h0M177.1 938.4h0M186.9 950.0h0M185.0 943.8h0M180.3 943.9h0M180.9 946.7h0M157.1 947.5h0M183.4 944.4h0M180.3 950.3h0M183.0 950.2h0M155.8 913.5h0M151.1 926.6h0M167.4 946.0h0M180.1 949.7h0M169.8 945.4h0M164.8 944.4h0M186.7 950.2h0M155.3 949.6h0M178.6 946.5h0M170.7 948.4h0M155.7 936.5h0M184.1 944.8h0M185.0 950.4h0M170.6 944.0h0M182.9 945.3h0M175.3 948.7h0M185.6 949.8h0M185.0 944.2h0M175.1 937.0h0M172.9 949.5h0M176.3 929.5h0M184.8 949.6h0M169.9 932.3h0M183.5 947.6h0M162.1 941.1h0M178.5 946.2h0M171.9 946.3h0M177.6 947.9h0M183.6 950.6h0M187.5 950.7h0M182.5 947.4h0M160.9 944.1h0M186.7 949.5h0M179.5 939.7h0M172.4 894.2h0M173.5 937.2h0M179.5 937.9h0M168.3 927.8h0M143.5 890.6h0M121.3 834.8h0M176.3 942.9h0M179.3 937.9h0M173.6 909.5h0M161.8 878.1h0M181.3 938.8h0M152.5 847.2h0M185.7 948.3h0M181.0 935.9h0M185.2 949.1h0M175.7 932.4h0M184.0 950.4h0M176.3 926.4h0M186.1 949.1h0M186.1 946.6h0M180.2 950.3h0M175.5 929.7h0M179.5 947.1h0M176.4 926.3h0M167.0 925.6h0M152.0 869.5h0M174.6 928.5h0M165.2 923.9h0M181.7 949.1h0M157.0 917.9h0M176.3 927.6h0M181.4 944.5h0M167.0 900.1h0M169.9 937.7h0M176.8 941.8h0M170.3 896.4h0M162.4 906.1h0M156.0 851.8h0M177.1 927.3h0M134.4 872.3h0M178.2 929.6h0M184.5 946.8h0M175.8 927.7h0M182.8 941.6h0M168.3 913.5h0M183.0 937.4h0M177.3 942.5h0M186.7 949.5h0M148.1 894.9h0M170.8 947.1h0M168.6 905.2h0M166.3 898.0h0M170.5 923.9h0M175.3 914.0h0M183.0 942.4h0M162.7 888.5h0M155.9 903.2h0M187.2 949.4h0M162.2 926.7h0M172.2 929.5h0M171.2 908.0h0M177.3 948.4h0M165.9 892.1h0M172.0 929.2h0M186.4 946.8h0M182.7 940.8h0M172.5 931.5h0M175.8 910.0h0M165.8 916.9h0M179.7 935.1h0M175.8 911.4h0M153.1 863.1h0M135.7 891.0h0M180.3 928.6h0M158.5 914.0h0M181.9 934.6h0M163.2 928.5h0M186.8 950.6h0M179.2 932.8h0M185.0 947.3h0M181.9 946.2h0M167.8 892.2h0M181.0 943.1h0M186.6 950.5h0M179.2 938.5h0M179.4 939.8h0M179.9 935.4h0M160.6 897.6h0M153.7 877.8h0M179.2 945.9h0M171.7 896.8h0M169.1 915.4h0M151.8 825.4h0M152.9 807.1h0M173.6 910.8h0M177.4 937.9h0M153.7 911.3h0M136.3 871.1h0M170.9 887.9h0M186.3 948.1h0M180.1 946.1h0M183.0 951.0h0M147.3 871.9h0M149.2 950.8h0M142.2 950.7h0M147.0 930.8h0M142.8 950.0h0M141.6 941.6h0M152.4 939.5h0M145.5 946.8h0M147.0 948.5h0M153.6 933.9h0M151.8 939.5h0M151.4 949.4h0M145.3 950.5h0M137.0 727.3h0M143.2 754.8h0M140.6 778.0h0M142.8 777.6h0M148.6 779.8h0M132.7 783.4h0M148.6 784.9h0M138.5 803.0h0M132.7 814.3h0M129.0 833.8h0M158.4 836.7h0M133.4 850.1h0M134.8 849.8h0M141.4 848.3h0M160.6 854.1h0M162.7 858.5h0M163.8 859.9h0M147.5 859.9h0M143.2 862.8h0M155.9 867.5h0M148.6 871.2h0M151.5 871.5h0M155.1 873.7h0M164.9 873.0h0M166.7 877.3h0M146.1 880.2h0M137.0 885.7h0M159.5 886.4h0M166.0 889.3h0M76.1 919.4h0M108.0 921.5h0M113.1 937.1h0M117.8 938.2h0M119.6 940.0h0M128.7 933.9h0M131.2 934.6h0M124.3 948.4h0" stroke="#199e6e" stroke-width="2.2" stroke-linecap="round" fill="none"/>
<path d="M204.7 948.6h0M225.8 937.9h0M205.8 947.4h0M205.6 950.6h0M219.5 944.8h0M216.6 927.3h0M206.7 950.6h0M207.5 950.3h0M220.1 935.3h0M206.0 947.2h0M234.3 917.6h0M205.4 950.3h0M204.6 950.1h0M215.8 922.3h0M206.9 945.1h0M214.2 938.1h0M207.8 940.7h0M213.4 928.7h0M207.2 947.2h0M205.8 951.0h0M227.8 934.1h0M205.8 947.6h0M208.5 946.5h0M212.4 935.0h0M214.2 949.3h0M216.7 922.3h0M209.6 948.5h0M204.6 947.8h0M209.5 949.8h0M207.7 942.3h0M204.8 949.0h0M218.1 937.1h0M205.4 949.0h0M207.5 941.9h0M219.0 935.6h0M228.1 918.2h0M212.7 928.9h0M208.5 950.2h0M222.1 893.0h0M237.9 923.8h0M232.0 922.1h0M208.9 938.1h0M221.4 909.9h0M208.3 939.6h0M205.8 949.9h0M222.0 932.9h0M207.1 943.1h0M210.5 939.6h0M207.0 942.7h0M205.5 949.9h0M218.2 927.3h0M208.6 940.1h0M218.0 926.3h0M208.7 937.5h0M215.7 943.4h0M209.5 938.9h0M210.8 940.0h0M205.4 947.9h0M209.0 950.6h0M204.4 948.7h0M209.1 947.2h0M212.3 932.4h0M211.3 946.4h0M221.0 923.5h0M219.5 945.3h0M209.3 947.0h0M204.2 949.4h0M205.6 947.3h0M209.3 948.9h0M218.3 944.9h0M239.2 926.7h0M222.7 914.1h0M207.8 945.7h0M209.4 947.2h0M211.0 933.8h0M208.8 944.8h0M211.6 940.3h0M213.8 940.1h0M209.0 940.1h0M217.3 943.2h0M209.0 946.3h0M207.9 942.8h0M204.6 949.8h0M205.3 947.9h0M208.5 941.0h0M213.6 938.6h0M210.3 938.2h0M210.9 935.3h0M228.1 939.1h0M215.3 940.3h0M208.8 944.7h0M211.2 933.9h0M225.0 896.7h0M211.0 937.9h0M206.4 950.8h0M216.9 938.1h0M215.9 932.7h0M213.5 940.3h0M207.9 949.7h0M223.1 943.5h0M207.1 948.5h0M212.5 948.6h0M210.8 934.2h0M210.4 949.7h0M240.3 899.8h0M212.0 937.3h0M208.7 945.1h0M206.8 949.4h0M216.1 940.1h0M219.1 945.7h0M208.7 946.7h0M207.0 950.4h0M206.0 946.4h0M209.3 943.2h0M209.2 946.7h0M221.7 929.6h0M224.8 900.2h0M210.2 947.0h0M211.2 935.5h0M213.6 946.9h0M210.3 944.1h0M212.3 940.3h0M210.9 932.7h0M203.7 950.8h0M205.2 946.6h0M216.2 941.8h0M204.2 948.6h0M208.8 945.9h0M219.9 936.9h0M222.3 918.5h0M208.8 944.7h0M219.3 916.2h0M215.2 941.9h0M208.5 939.0h0M207.4 948.2h0M209.6 947.5h0M244.6 932.2h0M210.1 942.8h0M207.2 949.8h0M203.8 950.5h0M206.0 948.1h0M207.6 943.0h0M211.8 937.9h0M220.6 934.6h0M211.0 947.1h0M206.6 949.1h0M209.9 939.9h0M214.9 943.3h0M213.8 942.9h0M207.0 944.1h0M223.3 916.6h0M209.7 941.0h0M210.6 931.0h0M208.3 941.3h0M207.1 947.1h0M211.4 938.7h0M213.8 943.5h0M206.3 949.5h0M218.0 946.2h0M211.1 932.9h0M204.8 949.3h0M211.4 950.7h0M206.2 944.8h0M209.4 936.3h0M204.8 950.1h0M212.2 931.3h0M217.2 929.3h0M204.7 948.2h0M212.1 941.0h0M213.4 937.4h0M215.0 943.9h0M244.8 922.3h0M218.1 931.0h0M205.6 947.2h0M208.9 947.2h0M211.3 938.4h0M210.8 946.1h0M207.2 945.8h0M211.5 943.4h0M221.3 931.3h0M222.4 902.9h0M211.2 936.8h0M210.3 943.7h0M205.9 944.9h0M221.7 942.3h0M241.6 919.5h0M205.6 946.6h0M205.2 950.0h0M219.5 935.9h0M207.0 948.4h0M209.4 944.6h0M209.8 946.4h0M205.4 947.0h0M214.8 939.1h0M225.4 913.7h0M213.9 923.1h0M212.8 940.2h0M209.7 935.7h0M208.2 942.5h0M219.4 937.6h0M207.7 947.0h0M209.6 945.1h0M205.4 947.1h0M214.3 940.9h0M220.7 919.6h0M214.9 946.5h0M214.1 925.8h0M210.5 935.5h0M206.1 948.7h0M207.5 945.5h0M206.9 944.1h0M211.4 945.1h0M237.3 901.5h0M229.3 926.2h0M210.4 943.8h0M207.9 944.9h0M207.5 950.9h0M209.8 943.6h0M209.6 937.5h0M208.8 947.4h0M220.8 908.9h0M219.0 946.0h0M208.2 947.2h0M215.4 912.9h0M214.1 933.7h0M209.4 935.9h0M205.7 948.4h0M205.6 946.4h0M214.6 941.0h0M208.2 949.7h0M206.6 949.0h0M215.4 930.3h0M206.4 944.7h0M214.0 944.3h0M210.1 943.4h0M213.4 950.0h0M214.6 940.4h0M208.0 942.2h0M211.9 943.1h0M206.1 946.3h0M208.9 942.2h0M209.1 941.1h0M203.1 951.0h0M235.0 906.9h0M221.5 912.8h0M206.1 949.5h0M211.2 943.9h0M210.2 936.6h0M209.9 943.5h0M209.9 947.3h0M232.7 942.3h0M219.4 933.1h0M208.7 944.4h0M205.3 950.7h0M215.0 940.0h0M213.0 941.5h0M224.4 936.5h0M210.7 941.9h0M205.5 948.3h0M207.7 941.2h0M218.7 927.0h0M217.2 910.1h0M207.6 942.7h0M205.0 948.2h0M214.9 937.0h0M220.2 910.1h0M222.8 915.6h0M218.5 932.5h0M208.4 950.0h0M209.1 938.6h0M210.6 948.4h0M209.0 937.3h0M210.4 933.2h0M215.4 943.8h0M205.5 947.5h0M220.2 926.1h0M210.1 932.3h0M218.9 945.8h0M209.5 948.6h0M205.8 946.8h0M239.0 903.5h0M208.6 949.8h0M221.5 927.0h0M223.2 900.3h0M217.5 937.3h0M217.7 912.8h0M215.6 922.6h0M213.8 938.6h0M214.8 940.0h0M208.6 948.5h0M206.0 947.7h0M214.9 933.1h0M209.0 950.2h0M222.3 926.6h0M207.8 946.5h0M212.7 927.6h0M206.8 942.9h0M213.5 938.4h0M206.6 950.0h0M206.4 946.1h0M209.4 942.1h0M211.1 935.9h0M210.6 947.0h0M215.6 938.8h0M220.3 940.8h0M213.7 929.8h0M209.1 937.7h0M207.5 949.7h0M227.3 916.7h0M207.3 945.4h0M211.3 949.4h0M215.8 950.9h0M214.7 930.9h0M206.1 949.9h0M211.5 950.7h0M209.4 935.7h0M209.5 949.8h0M219.6 917.6h0M215.4 930.7h0M213.2 937.4h0M204.5 948.9h0M218.1 946.4h0M210.9 931.8h0M216.1 916.4h0M210.8 939.1h0M208.5 949.0h0M217.4 938.6h0M208.8 943.6h0M209.7 937.9h0M205.4 950.8h0M206.9 949.0h0M208.1 947.8h0M210.0 934.6h0M207.6 943.0h0M209.4 937.7h0M206.7 947.6h0M222.4 942.8h0M207.6 948.4h0M205.2 948.9h0M205.2 947.3h0M224.7 923.6h0M206.3 947.8h0M213.9 938.1h0M205.8 947.4h0M206.3 950.2h0M236.2 922.8h0M225.0 905.4h0M208.1 944.5h0M204.4 950.1h0M209.8 943.0h0M231.8 916.2h0M214.1 929.2h0M213.6 930.7h0M206.7 945.2h0M208.4 949.4h0M215.6 941.7h0M223.9 918.7h0M217.6 932.8h0M214.1 938.8h0M222.1 940.7h0M207.2 948.2h0M215.5 934.1h0M208.5 947.8h0M212.7 935.6h0M230.7 935.2h0M213.8 938.1h0M211.1 941.5h0M216.9 923.3h0M218.9 936.1h0M204.4 950.0h0M228.9 928.0h0M218.1 942.0h0M220.5 939.1h0M215.6 949.7h0M216.1 938.1h0M215.7 946.1h0M218.3 900.4h0M229.8 932.8h0M205.6 946.6h0M208.5 947.0h0M204.7 948.8h0M212.2 928.2h0M222.1 898.1h0M211.6 928.5h0M219.1 930.9h0M221.0 941.9h0M207.6 949.8h0M205.1 948.8h0M216.4 930.0h0M204.4 950.3h0M210.2 933.6h0M207.8 945.9h0M204.8 948.5h0M224.6 909.6h0M207.5 949.2h0M218.5 925.7h0M238.4 917.8h0M207.1 943.2h0M209.6 947.6h0M210.1 950.9h0M208.0 946.8h0M218.5 931.0h0M209.3 937.9h0M205.0 949.7h0M213.4 940.4h0M207.5 945.5h0M212.7 932.9h0M206.9 948.1h0M214.7 943.2h0M209.6 939.2h0M210.3 933.6h0M206.4 947.1h0M207.8 948.0h0M206.1 947.3h0M220.0 926.7h0M204.8 949.1h0M216.6 941.4h0M212.1 924.5h0M208.0 945.5h0M206.7 945.2h0M206.1 947.8h0M212.8 925.6h0M206.2 947.6h0M217.7 934.1h0M249.7 899.8h0M205.1 947.5h0M217.2 942.0h0M213.5 928.1h0M208.5 938.2h0M230.1 908.0h0M209.3 936.4h0M211.7 946.2h0M211.1 942.0h0M215.4 926.7h0M206.0 948.4h0M205.0 950.3h0M232.3 904.3h0M204.8 950.1h0M205.8 946.3h0M208.7 939.4h0M214.9 940.0h0M210.6 947.0h0M219.9 917.7h0M225.7 928.2h0M236.7 922.1h0M219.3 929.9h0M208.1 944.4h0M229.6 930.4h0M214.3 939.6h0M210.8 950.7h0M212.1 934.2h0M212.0 928.4h0M213.6 934.4h0M220.6 937.5h0M208.0 943.9h0M240.7 932.1h0M238.8 925.1h0M210.5 933.0h0M207.9 941.9h0M207.1 944.7h0M210.0 940.6h0M211.6 937.4h0M207.5 950.3h0M210.7 941.8h0M213.8 919.0h0M213.3 929.7h0M208.4 943.4h0M206.9 949.6h0M211.5 945.3h0M209.0 937.8h0M212.8 939.9h0M206.2 950.5h0M206.3 946.7h0M205.1 947.4h0M220.7 937.8h0M219.6 939.0h0M207.5 946.8h0M223.7 912.5h0M206.2 945.3h0M209.0 947.5h0M221.9 937.6h0M205.1 947.9h0M218.9 917.9h0M206.4 948.3h0M211.0 946.3h0M209.0 936.6h0M222.9 894.7h0M214.6 939.0h0M211.2 937.8h0M206.6 946.4h0M204.3 949.8h0M218.1 930.5h0M207.3 947.9h0M207.4 941.1h0M205.6 949.3h0M205.0 947.7h0M212.7 948.0h0M208.4 948.8h0M229.2 916.0h0M227.3 933.2h0M230.3 903.4h0M212.8 934.7h0M221.1 915.2h0M216.7 943.0h0M220.7 942.1h0M209.9 947.6h0M212.1 950.9h0M211.9 925.6h0M206.7 946.1h0M218.1 929.6h0M205.2 949.4h0M220.0 929.8h0M218.2 923.2h0M216.5 928.0h0M224.7 925.1h0M207.6 950.6h0M212.1 948.2h0M205.1 948.6h0M209.7 937.8h0M212.1 947.7h0M208.5 949.3h0M218.4 917.7h0M212.4 947.4h0M214.1 918.3h0M207.8 950.7h0M209.5 945.8h0M209.9 950.1h0M211.1 929.2h0M211.4 947.5h0M204.8 950.7h0M225.7 925.7h0M213.0 932.7h0M209.3 936.5h0M209.5 943.6h0M212.4 935.2h0M219.3 927.3h0M205.6 949.0h0M216.1 944.4h0M212.3 934.8h0M222.6 941.6h0M215.3 937.3h0M207.7 948.4h0M217.8 935.6h0M207.7 944.8h0M210.4 941.9h0M223.6 930.4h0M205.6 949.2h0M209.1 944.1h0M224.7 899.3h0M208.9 948.3h0M209.5 943.9h0M214.2 935.7h0M208.7 941.8h0M214.1 942.6h0M216.1 932.7h0M208.6 949.4h0M210.0 944.6h0M218.3 924.2h0M205.3 950.7h0M213.6 939.5h0M219.6 913.1h0M215.2 932.3h0M215.9 916.7h0M220.3 940.6h0M217.8 928.1h0M206.1 946.4h0M217.5 926.8h0M216.3 929.3h0M217.8 943.7h0M213.5 948.3h0M212.0 945.0h0M213.7 935.0h0M231.8 916.8h0M212.0 944.4h0M206.3 949.7h0M209.7 936.9h0M206.5 947.1h0M219.8 924.2h0M213.5 931.7h0M210.3 936.8h0M230.9 916.7h0M215.6 917.6h0M210.6 938.0h0M212.6 938.4h0M212.4 941.3h0M217.4 933.8h0M211.7 942.4h0M206.0 949.9h0M217.7 947.4h0M210.6 941.9h0M205.5 948.7h0M207.7 944.9h0M218.6 917.4h0M215.9 947.2h0M209.8 934.9h0M218.7 945.7h0M211.8 926.4h0M223.1 892.9h0M207.0 946.9h0M207.8 944.5h0M207.9 942.5h0M212.7 939.4h0M208.2 942.9h0M205.3 949.3h0M207.7 943.8h0M208.9 946.1h0M206.0 949.1h0M214.7 940.5h0M215.8 913.2h0M212.0 936.2h0M217.1 941.8h0M211.9 944.4h0M217.1 941.8h0M212.2 943.8h0M212.5 949.4h0M215.3 921.0h0M205.7 950.5h0M209.8 941.5h0M213.5 943.3h0M206.1 946.6h0M208.1 945.7h0M236.3 931.5h0M208.3 946.3h0M208.9 937.4h0M211.0 939.1h0M205.4 946.0h0M210.5 947.3h0M215.3 945.1h0M208.3 947.5h0M213.5 929.9h0M215.3 937.5h0M208.3 947.8h0M204.5 950.8h0M211.2 947.0h0M208.9 949.1h0M203.8 950.1h0M218.7 922.3h0M210.5 944.0h0M215.7 938.7h0M223.9 922.0h0M207.3 946.2h0M209.1 937.2h0M210.8 943.5h0M227.3 919.3h0M229.0 946.9h0M215.9 940.4h0M218.6 939.8h0M210.9 942.7h0M206.0 946.9h0M212.7 950.6h0M221.3 919.2h0M212.7 940.2h0M234.1 946.1h0M223.1 950.2h0M216.4 946.9h0M211.7 941.4h0M237.3 936.9h0M220.1 939.6h0M233.6 942.2h0M213.1 943.9h0M219.0 939.3h0M219.1 938.5h0M210.1 946.9h0M238.3 933.8h0M216.7 916.6h0M213.6 929.5h0M227.2 933.2h0M210.6 940.8h0M207.7 940.6h0M223.9 950.9h0M210.0 933.9h0M216.9 946.9h0M209.4 940.0h0M212.0 933.3h0M225.9 914.7h0M215.6 936.8h0M227.3 944.9h0M212.5 948.4h0M227.5 949.2h0M209.6 938.2h0M247.5 897.9h0M218.8 936.3h0M206.8 947.7h0M228.6 938.5h0M216.1 944.1h0M217.7 936.6h0M210.6 946.3h0M205.4 950.5h0M212.7 943.5h0M220.5 949.7h0M215.1 947.2h0M204.6 950.8h0M220.9 947.1h0M211.8 941.2h0M219.9 917.9h0M226.3 918.7h0M213.6 940.7h0M216.5 936.7h0M221.7 949.7h0M220.1 934.3h0M213.6 950.4h0M223.2 943.9h0M227.0 941.6h0M211.4 949.3h0M210.8 948.6h0M220.4 950.8h0M220.4 944.9h0M207.2 946.4h0M229.3 933.9h0M217.3 917.9h0M212.2 926.0h0M237.3 944.0h0M205.6 947.6h0M216.6 940.2h0M207.9 950.1h0M207.6 946.4h0M231.9 944.8h0M219.2 912.5h0M206.5 945.0h0M228.7 947.0h0M217.7 936.1h0M209.6 946.5h0M210.6 944.7h0M210.3 932.2h0M207.7 949.1h0M207.5 947.1h0M232.7 931.2h0M216.7 933.7h0M237.1 932.8h0M227.7 917.2h0M219.3 939.9h0M215.9 925.6h0M214.4 940.9h0M223.5 933.6h0M210.0 945.8h0M211.6 944.7h0M205.3 950.0h0M211.5 940.1h0M213.8 944.9h0M255.6 932.6h0M225.3 928.2h0M216.4 935.2h0M228.7 942.9h0M218.8 950.5h0M210.0 941.1h0M215.2 947.5h0M226.8 921.9h0M204.1 950.5h0M207.9 948.4h0M220.5 925.3h0M214.2 930.3h0M209.6 950.4h0M213.1 939.7h0M216.6 941.6h0M245.8 934.2h0M232.1 928.6h0M207.1 948.1h0M207.0 943.3h0M207.5 949.1h0M222.5 948.2h0M219.4 929.7h0M229.1 935.5h0M211.8 936.0h0M213.5 930.7h0M212.2 949.4h0M215.4 943.0h0M206.5 946.9h0M206.1 948.7h0M227.6 932.8h0M209.3 945.9h0M209.8 939.6h0M213.6 937.7h0M205.3 948.4h0M226.7 924.7h0M217.6 945.1h0M211.7 926.9h0M211.2 939.5h0M209.8 940.3h0M213.7 950.6h0M208.8 937.3h0M246.3 927.1h0M213.5 928.3h0M206.5 950.8h0M211.8 947.8h0M222.2 905.5h0M235.4 945.2h0M226.3 941.8h0M209.4 942.9h0M218.2 937.6h0M224.3 942.6h0M217.7 945.0h0M228.0 937.0h0M213.0 936.7h0M212.2 948.3h0M217.9 924.9h0M208.6 943.7h0M222.2 941.9h0M211.0 948.4h0M215.5 948.4h0M211.6 941.0h0M214.7 949.9h0M208.5 946.7h0M224.4 940.1h0M243.6 912.5h0M209.2 949.4h0M220.5 947.8h0M209.3 947.9h0M209.8 948.6h0M210.7 950.4h0M210.4 945.8h0M211.1 943.2h0M207.4 946.2h0M216.1 935.1h0M217.1 950.5h0M226.3 946.7h0M208.9 940.2h0M210.5 931.6h0M223.6 926.7h0M224.6 894.4h0M209.6 934.4h0M216.5 947.7h0M214.7 949.3h0M223.8 950.6h0M225.1 944.7h0M209.5 937.7h0M221.6 948.8h0M224.9 936.9h0M234.8 927.1h0M204.1 950.1h0M209.5 943.0h0M208.8 948.6h0M228.7 946.8h0M223.2 899.2h0M210.6 948.6h0M223.0 945.9h0M237.2 929.1h0M205.1 949.9h0M222.4 908.0h0M214.3 950.1h0M212.4 934.8h0M211.7 946.7h0M220.4 910.4h0M205.4 950.3h0M221.1 949.8h0M217.9 947.7h0M234.9 899.7h0M219.1 922.6h0M212.4 944.9h0M213.8 931.9h0M233.2 890.6h0M228.4 936.6h0M208.6 944.5h0M223.4 945.6h0M213.5 931.8h0M219.3 927.6h0M207.5 947.8h0M211.3 928.8h0M216.4 940.0h0M245.9 926.2h0M214.9 942.7h0M207.1 947.3h0M211.7 940.4h0M204.9 949.4h0M214.1 943.2h0M218.7 895.4h0M206.5 950.4h0M222.6 942.8h0M210.5 934.7h0M212.5 946.7h0M205.1 949.5h0M213.3 950.2h0M211.4 938.9h0M211.8 941.8h0M208.9 946.9h0M232.5 947.3h0M220.9 933.4h0M214.3 945.1h0M207.7 941.2h0M210.3 949.3h0M226.4 946.3h0M207.1 944.6h0M222.0 934.9h0M222.9 928.9h0M224.1 916.0h0M236.0 943.4h0M211.9 944.1h0M226.0 936.3h0M222.4 941.1h0M222.7 942.2h0M216.2 928.2h0M240.6 904.1h0M206.7 948.0h0M238.3 940.7h0M227.6 941.6h0M205.9 946.1h0M225.7 914.8h0M227.6 950.8h0M247.3 899.6h0M212.1 948.3h0M218.1 940.7h0M206.9 948.9h0M207.0 943.8h0M211.5 940.2h0M223.0 928.9h0M230.0 936.6h0M219.8 903.6h0M204.4 950.7h0M205.6 949.1h0M239.3 928.4h0M227.0 940.2h0M209.3 949.9h0M208.7 948.0h0M214.5 936.5h0M205.6 950.7h0M214.5 945.6h0M223.5 939.9h0M206.4 944.5h0M209.3 943.8h0M229.8 950.0h0M214.3 946.4h0M226.4 944.3h0M245.6 916.4h0M216.9 948.6h0M211.9 928.4h0M212.8 951.0h0M226.6 935.3h0M223.1 933.3h0M210.8 948.7h0M211.5 950.0h0M216.3 949.8h0M214.7 942.3h0M224.5 945.4h0M215.9 943.3h0M243.4 926.6h0M204.8 947.2h0M210.2 949.8h0M225.4 942.3h0M221.3 923.1h0M206.8 946.8h0M205.5 949.2h0M208.0 947.7h0M231.2 939.3h0M213.6 936.5h0M213.4 920.9h0M212.8 936.9h0M222.3 946.2h0M224.2 949.8h0M216.5 948.4h0M216.7 938.5h0M243.0 909.2h0M234.8 920.0h0M213.6 931.1h0M221.6 948.4h0M223.9 939.5h0M215.2 941.1h0M221.9 893.4h0M212.4 925.3h0M211.2 940.8h0M212.8 950.7h0M206.7 946.4h0M213.1 947.7h0M214.1 939.7h0M208.5 948.1h0M209.8 950.1h0M207.5 946.4h0M203.4 950.6h0M209.9 944.6h0M218.2 943.8h0M209.1 940.0h0M208.2 940.8h0M223.6 943.4h0M222.5 942.7h0M211.0 940.2h0M205.4 950.6h0M231.5 928.2h0M214.7 949.5h0M227.8 937.2h0M217.6 950.6h0M209.6 948.5h0M246.7 922.9h0M220.8 948.5h0M224.4 945.2h0M213.0 944.1h0M214.8 937.7h0M214.4 948.2h0M219.3 947.6h0M218.6 939.5h0M210.1 950.8h0M222.8 924.6h0M216.9 912.0h0M213.7 950.3h0M214.4 937.8h0M206.2 949.7h0M206.3 947.5h0M204.8 950.9h0M232.3 940.7h0M209.8 937.7h0M210.2 949.7h0M220.5 937.3h0M216.7 938.8h0M228.5 931.6h0M228.3 941.7h0M205.0 948.0h0M227.8 900.7h0M212.2 944.4h0M241.6 941.2h0M216.2 950.6h0M220.3 941.7h0M224.8 939.3h0M214.4 940.5h0M236.0 947.0h0M230.5 940.5h0M219.0 932.0h0M206.7 945.7h0M208.3 949.9h0M233.0 946.0h0M210.3 948.8h0M209.1 950.4h0M205.6 950.7h0M227.4 903.7h0M210.6 932.9h0M208.2 947.9h0M209.0 947.9h0M209.6 945.8h0M208.6 949.6h0M221.2 913.9h0M218.7 950.1h0M208.3 949.9h0M227.4 917.3h0M225.3 950.0h0M224.6 947.2h0M211.6 942.1h0M213.5 947.1h0M204.5 950.8h0M216.0 943.0h0M207.4 947.0h0M232.5 932.2h0M212.9 938.4h0M233.3 937.2h0M225.8 939.3h0M215.9 931.7h0M213.8 945.8h0M232.9 944.0h0M212.7 948.2h0M227.8 935.3h0M210.8 938.5h0M205.4 946.6h0M233.2 901.3h0M209.1 937.8h0M248.1 890.8h0M236.8 919.2h0M228.6 925.5h0M213.0 940.8h0M212.6 945.4h0M216.0 946.0h0M214.8 923.5h0M242.2 924.6h0M212.9 948.2h0M236.0 932.5h0M208.0 943.1h0M210.5 934.8h0M216.8 922.5h0M205.2 946.7h0M214.1 931.9h0M207.9 943.3h0M207.1 945.6h0M212.5 946.2h0M209.0 939.2h0M224.2 921.6h0M231.7 920.6h0M207.4 947.6h0M210.3 946.4h0M213.5 944.5h0M213.8 925.6h0M207.6 947.3h0M214.6 932.6h0M238.8 930.0h0M214.8 949.5h0M226.2 942.0h0M218.4 944.6h0M219.0 921.6h0M215.7 941.0h0M237.9 944.8h0M257.0 922.5h0M217.6 900.5h0M224.1 909.5h0M225.5 948.8h0M221.6 938.9h0M218.2 941.2h0M213.1 949.7h0M210.0 942.4h0M207.5 947.6h0M207.0 949.3h0M221.6 949.6h0M220.2 947.8h0M205.9 944.8h0M229.9 913.6h0M209.3 939.0h0M231.5 924.3h0M218.9 924.2h0M244.2 930.3h0M208.0 947.8h0M218.8 939.9h0M215.7 930.6h0M211.0 942.4h0M221.0 913.0h0M226.5 921.3h0M211.9 949.3h0M211.8 933.5h0M209.9 944.8h0M214.6 925.1h0M215.7 936.1h0M233.8 892.2h0M213.9 939.6h0M229.0 869.8h0M204.8 948.2h0M209.3 936.8h0M206.2 948.6h0M218.0 909.1h0M222.5 929.5h0M240.8 913.2h0M220.3 920.5h0M216.0 917.6h0M214.2 921.7h0M229.8 835.2h0M221.6 910.8h0M217.1 936.6h0M226.5 859.8h0M215.8 927.7h0M217.3 908.4h0M225.0 888.0h0M212.3 940.4h0M208.8 942.4h0M224.3 901.7h0M210.0 935.1h0M223.4 928.6h0M208.8 939.3h0M222.6 909.0h0M207.1 946.0h0M221.7 885.0h0M220.1 887.8h0M215.8 925.6h0M208.4 950.4h0M205.3 949.6h0M207.6 943.0h0M207.1 943.2h0M207.3 946.4h0M219.3 899.8h0M213.8 922.1h0M208.1 943.3h0M226.4 921.7h0M232.1 837.6h0M219.6 925.8h0M216.6 932.7h0M236.1 823.0h0M221.9 896.2h0M230.6 903.1h0M214.2 935.9h0M217.3 927.8h0M206.7 945.4h0M214.1 924.5h0M209.9 942.6h0M208.5 938.9h0M220.2 906.7h0M207.6 944.9h0M210.8 936.2h0M221.8 925.4h0M246.7 800.3h0M211.3 934.4h0M216.8 927.8h0M205.0 948.0h0M217.4 934.8h0M209.3 939.1h0M212.1 937.9h0M217.8 919.2h0M219.3 943.2h0M210.7 937.5h0M212.3 935.6h0M205.1 950.4h0M217.4 916.7h0M211.9 930.7h0M213.1 942.6h0M212.9 944.3h0M223.7 935.5h0M240.2 924.4h0M227.5 875.2h0M220.4 926.8h0M229.4 904.9h0M228.4 912.6h0M209.9 943.9h0M244.0 822.4h0M216.9 917.5h0M238.1 894.9h0M221.6 911.9h0M206.3 945.0h0M255.4 818.5h0M216.0 915.3h0M245.1 894.2h0M230.5 896.1h0M207.9 945.2h0M207.7 942.7h0M207.5 944.2h0M207.5 942.3h0M209.8 936.0h0M210.5 932.2h0M208.7 949.3h0M212.4 928.0h0M247.1 819.0h0M207.8 943.1h0M210.6 947.8h0M225.8 885.8h0M215.6 935.2h0M221.5 906.6h0M216.2 917.8h0M219.6 941.4h0M213.8 932.4h0M209.5 947.0h0M209.9 939.2h0M213.2 948.7h0M236.1 854.6h0M216.1 929.6h0M235.0 944.1h0M255.1 943.8h0M235.8 944.6h0M234.6 935.7h0M250.9 947.3h0M253.0 768.6h0M249.0 801.9h0M262.4 818.6h0M243.6 817.2h0M237.0 819.7h0M232.7 834.9h0M242.8 840.4h0M246.5 839.6h0M230.9 846.5h0M229.8 851.2h0M228.3 858.5h0M235.6 858.5h0M255.9 862.1h0M225.4 871.9h0M229.1 874.8h0M252.6 873.7h0M227.3 880.2h0M237.4 880.2h0M224.7 889.3h0M246.5 886.4h0M252.6 889.3h0" stroke="#ff0033" stroke-width="2.2" stroke-linecap="round" fill="none"/>
<path d="M67.4 951.0H272.0" stroke="#111" stroke-width="1.25" stroke-dasharray="1.6 2.7 5.6 2.7" fill="none"/>
<rect x="67.4" y="716.6" width="204.6" height="252.4" fill="none" stroke="#595959" stroke-width="1.3"/>
<path d="M67.9 898.0V950.4" stroke="#199e6e" stroke-width="1" stroke-opacity="0.4" stroke-dasharray="1.5 3.5" fill="none"/>
<path d="M67.9 951.6V957.6" stroke="#0a5acd" stroke-width="1" stroke-opacity="0.8" stroke-dasharray="" fill="none"/>
<path d="M271.5 858.0V928.0" stroke="#ff0033" stroke-width="1" stroke-opacity="0.35" stroke-dasharray="1.5 4" fill="none"/>
<path d="M271.5 928.0V950.4" stroke="#ff0033" stroke-width="1" stroke-opacity="0.45" stroke-dasharray="2 1.5" fill="none"/>
<path d="M271.5 951.6V958.0" stroke="#0a5acd" stroke-width="1" stroke-opacity="0.85" stroke-dasharray="" fill="none"/>
<path d="M127.1 969.0v4.6M195.8 969.0v4.6M264.5 969.0v4.6M67.4 801.2h-5M67.4 879.1h-5M67.4 951.0h-5M67.4 957.6h-5" stroke="#4d4d4d" stroke-width="1" fill="none"/>
<g class="tick">
<text x="127.1" y="985.5" text-anchor="middle">-10</text>
<text x="195.8" y="985.5" text-anchor="middle">0</text>
<text x="264.5" y="985.5" text-anchor="middle">10</text>
<text x="58.9" y="805.1" text-anchor="end">30</text>
<text x="58.9" y="883.0" text-anchor="end">15</text>
<text x="58.9" y="954.9" text-anchor="end">1.3</text>
<text x="58.9" y="961.5" text-anchor="end">0</text>
</g>
<text class="ttl" x="167.9" y="702.5" text-anchor="middle">WT_YES vs WT_YEP</text>
<text class="axt" transform="translate(35.8 844.3) rotate(-90)" text-anchor="middle">−log<tspan font-size="9.8" dy="2.6">10</tspan><tspan dy="-2.6">(padj)</tspan></text>
<text class="axt" x="168.9" y="999.8" text-anchor="middle">log<tspan font-size="9.8" dy="2.6">2</tspan><tspan dy="-2.6">(fold change)</tspan></text>
</g>
<g>
<polygon fill="#199e6e" points="446.0,955.5 445.3,954.7 444.6,954.0 444.0,953.2 443.4,952.4 442.9,951.6 442.4,950.9 441.9,950.1 441.4,949.3 441.0,948.6 440.6,947.8 440.1,947.0 439.7,946.3 439.3,945.5 439.0,944.7 438.6,944.7 438.2,945.5 437.9,946.3 437.5,947.0 437.1,947.8 436.7,948.6 436.3,949.3 435.9,950.1 435.5,950.9 435.0,951.6 434.6,952.4 434.1,953.2 433.6,954.0 433.0,954.7 432.2,955.5"/>
<polygon fill="#ff0033" points="459.6,955.5 461.0,953.9 462.2,952.4 463.3,950.8 464.2,949.2 465.1,947.7 466.0,946.1 466.7,944.5 467.5,943.0 468.2,941.4 468.9,939.8 469.5,938.3 470.1,936.7 470.7,935.1 471.3,933.6 473.4,933.6 474.0,935.1 474.7,936.7 475.4,938.3 476.1,939.8 476.9,941.4 477.6,943.0 478.4,944.5 479.1,946.1 480.0,947.7 480.8,949.2 481.7,950.8 482.6,952.4 483.7,953.9 485.1,955.5"/>
<polygon fill="#0a5acd" points="417.1,955.5 446.0,955.5 446.9,956.3 447.7,957.0 448.6,957.6 449.4,958.0 450.3,958.4 451.1,958.7 452.0,958.8 452.8,958.6 453.6,958.8 454.5,958.7 455.3,958.4 456.2,958.0 457.0,957.6 457.9,957.0 458.7,956.3 459.6,955.5 497.8,955.5 497.8,955.5 494.5,958.0 491.1,958.5 487.7,958.8 484.4,959.0 481.0,959.2 477.6,959.3 474.3,959.4 470.9,959.4 467.5,959.5 464.2,959.5 460.8,959.5 457.5,959.5 454.1,959.5 450.7,959.5 447.4,959.5 444.0,959.5 440.6,959.5 437.3,959.4 433.9,959.3 430.5,959.2 427.2,959.0 423.8,958.7 420.4,958.2 417.1,955.5"/>
<path d="M404.3 957.5h0M402.0 956.3h0M400.2 957.2h0M402.2 956.8h0M402.7 957.1h0M505.8 956.1h0M503.5 958.3h0M502.0 958.6h0M502.4 957.0h0M507.2 958.1h0" stroke="#0a5acd" stroke-width="2.2" stroke-linecap="round" fill="none"/>
<path d="M436.3 941.3h0M444.2 954.6h0M435.8 953.6h0M434.2 941.2h0M430.2 943.5h0M440.9 950.0h0M441.0 951.5h0M434.4 947.0h0M423.7 948.9h0M437.1 950.2h0M434.3 941.5h0M430.2 941.7h0M434.3 947.7h0M443.4 955.3h0M433.7 943.9h0M439.0 953.2h0M442.4 953.9h0M440.8 953.9h0M438.9 953.0h0M441.8 953.5h0M418.4 943.7h0M442.9 953.2h0M442.3 954.7h0M442.6 953.7h0M442.8 955.3h0M440.8 950.9h0M443.5 955.3h0M434.1 944.2h0M439.9 952.4h0M437.7 949.4h0M439.7 950.9h0M434.7 947.9h0M443.3 955.4h0M443.1 953.6h0M442.5 953.0h0M433.7 940.3h0M443.3 954.4h0M444.0 954.6h0M442.4 952.7h0M427.8 949.6h0M443.7 955.3h0M444.8 955.4h0M438.2 953.4h0M442.3 952.7h0M444.0 954.1h0M437.4 954.7h0M443.1 955.2h0M443.7 955.3h0M440.7 949.0h0M420.6 936.6h0M442.3 952.1h0M430.0 946.6h0M440.0 953.4h0M428.3 948.3h0M436.6 953.5h0M443.9 954.6h0M435.8 947.4h0M420.5 947.9h0M435.2 953.2h0M439.8 953.3h0M444.8 954.7h0M441.6 954.3h0M441.9 954.8h0M438.8 951.4h0M436.2 955.4h0M431.2 948.2h0M444.7 955.2h0M422.1 943.1h0M436.1 951.2h0M415.6 939.8h0M428.8 945.2h0M443.1 953.8h0M437.3 955.2h0M444.7 955.4h0M442.0 952.9h0M441.1 952.6h0M438.3 948.0h0M420.5 946.1h0M436.0 955.3h0M444.3 954.4h0M443.9 953.8h0M439.5 947.9h0M437.0 948.3h0M441.8 953.7h0M439.6 951.6h0M441.5 955.3h0M439.8 950.5h0M445.6 955.5h0M437.4 952.8h0M438.9 952.7h0M437.6 955.4h0M443.0 953.9h0M435.4 943.5h0M441.9 951.9h0M433.0 944.4h0M436.8 954.1h0M441.8 954.4h0M438.7 951.7h0M440.5 951.9h0M428.7 953.4h0M443.0 954.3h0M440.9 949.6h0M438.9 953.9h0M435.9 950.4h0M443.4 954.9h0M444.4 954.2h0M439.1 948.1h0M442.6 952.3h0M441.6 953.4h0M443.2 955.1h0M440.8 952.9h0M441.6 951.7h0M439.6 946.8h0M439.7 955.2h0M432.1 944.0h0M438.4 953.0h0M437.9 948.3h0M441.1 953.6h0M422.6 945.0h0M431.5 945.0h0M434.3 954.7h0M441.7 952.8h0M433.4 951.2h0M440.5 954.0h0M443.6 954.7h0M440.3 955.3h0M436.9 947.5h0M445.4 955.4h0M432.7 949.2h0M439.9 953.9h0M443.5 953.5h0M443.9 954.4h0M438.2 955.2h0M431.1 945.3h0M428.7 945.3h0M435.6 945.9h0M443.4 954.8h0M439.5 947.6h0M444.4 955.0h0M442.8 953.1h0M436.6 954.3h0M437.8 953.0h0M444.1 954.2h0M439.9 954.3h0M440.2 950.0h0M442.0 953.9h0M432.3 954.1h0M433.5 953.7h0M409.9 939.2h0M431.4 955.2h0M423.8 950.2h0M434.8 952.2h0M415.5 955.5h0M417.0 948.5h0M415.0 951.4h0M424.5 951.1h0M434.1 951.1h0M431.1 953.1h0M346.1 728.0h0M346.5 751.7h0M343.4 786.4h0M357.3 807.4h0M358.6 811.1h0M366.4 820.9h0M388.7 838.1h0M351.9 841.1h0M345.8 856.6h0M355.6 861.4h0M337.4 865.1h0M360.0 875.5h0M348.8 884.6h0M367.4 885.3h0M368.4 888.7h0M358.3 914.0h0M351.9 920.8h0M374.8 928.5h0M342.8 931.9h0M360.0 938.6h0M387.3 935.9h0M389.7 939.3h0M419.0 932.6h0M430.2 930.9h0M433.6 933.2h0M427.5 936.6h0M435.2 936.6h0M415.7 940.0h0M405.5 942.7h0M403.2 945.1h0M409.9 947.4h0M353.6 945.1h0M355.9 948.4h0M367.1 946.7h0M387.3 949.4h0M389.0 952.1h0M398.1 953.5h0M402.2 953.5h0M374.5 940.0h0M376.2 942.7h0M378.5 941.0h0M380.6 944.0h0M375.5 946.1h0M377.9 947.4h0M381.2 946.7h0M373.8 944.0h0M379.6 939.3h0M377.2 948.8h0M381.9 942.7h0M373.1 948.1h0" stroke="#199e6e" stroke-width="2.2" stroke-linecap="round" fill="none"/>
<path d="M460.5 955.0h0M466.7 947.6h0M465.9 948.4h0M471.2 946.3h0M468.2 948.3h0M468.1 951.8h0M462.7 954.4h0M461.2 954.5h0M474.1 934.6h0M469.2 940.7h0M474.7 946.3h0M464.1 951.5h0M462.2 954.2h0M479.3 916.4h0M485.5 941.9h0M469.2 950.1h0M472.2 941.7h0M470.5 940.1h0M462.3 954.6h0M468.0 948.8h0M461.9 954.6h0M469.8 948.6h0M473.9 939.1h0M470.0 946.3h0M469.3 950.0h0M480.9 931.8h0M471.8 943.1h0M462.8 955.3h0M474.7 942.5h0M468.9 943.8h0M474.2 934.9h0M460.7 955.0h0M463.9 953.0h0M461.3 954.6h0M486.7 919.8h0M465.1 954.1h0M462.8 954.7h0M469.4 951.7h0M486.1 921.1h0M491.7 913.3h0M468.5 948.1h0M464.6 952.9h0M463.7 953.4h0M467.3 947.3h0M465.1 951.0h0M463.7 951.7h0M472.0 944.2h0M480.1 929.4h0M466.8 950.3h0M465.8 947.8h0M474.0 944.7h0M462.2 953.1h0M469.2 941.5h0M469.6 946.3h0M460.8 954.5h0M475.9 932.5h0M474.9 937.9h0M473.3 947.1h0M467.9 953.8h0M465.2 950.7h0M472.3 947.0h0M473.9 943.4h0M483.0 945.2h0M465.0 953.5h0M475.7 940.4h0M478.6 917.6h0M462.6 954.4h0M465.0 949.8h0M464.3 952.9h0M464.9 951.9h0M472.3 947.8h0M477.2 921.0h0M464.2 954.2h0M474.7 936.3h0M462.4 955.2h0M470.5 937.4h0M469.3 943.7h0M474.8 945.6h0M474.2 935.7h0M474.5 948.2h0M474.1 948.9h0M463.0 955.1h0M461.6 955.0h0M467.8 948.3h0M468.7 952.4h0M468.1 948.9h0M466.9 950.1h0M471.6 936.8h0M480.1 941.4h0M471.5 945.4h0M480.9 907.3h0M464.7 950.5h0M487.0 931.0h0M466.3 948.5h0M469.7 941.2h0M484.2 900.0h0M464.9 950.9h0M468.1 945.5h0M471.9 949.1h0M472.1 935.7h0M470.4 940.4h0M465.1 954.4h0M461.3 954.8h0M463.5 954.8h0M471.9 936.8h0M470.4 939.9h0M487.8 928.5h0M473.7 938.3h0M470.4 944.0h0M467.4 954.0h0M460.7 955.0h0M469.3 952.0h0M468.4 942.9h0M463.5 953.2h0M464.1 951.5h0M460.6 955.0h0M473.3 936.0h0M473.6 932.1h0M483.3 911.6h0M470.3 944.1h0M469.4 942.1h0M461.3 955.3h0M461.8 954.0h0M462.6 951.9h0M466.7 953.2h0M476.5 938.9h0M466.3 952.5h0M479.7 922.8h0M486.6 940.4h0M466.9 951.5h0M476.1 927.1h0M468.6 942.6h0M469.5 947.1h0M467.3 945.7h0M472.8 947.8h0M462.5 954.7h0M470.1 947.9h0M461.5 955.4h0M467.8 948.3h0M470.6 940.9h0M463.2 952.6h0M465.9 953.8h0M464.7 954.3h0M465.9 952.0h0M472.1 943.3h0M469.2 951.7h0M465.2 948.5h0M469.9 938.5h0M470.6 948.1h0M474.5 927.7h0M465.4 951.8h0M466.2 950.5h0M460.8 955.2h0M474.8 942.8h0M480.4 940.0h0M473.3 946.3h0M465.5 952.9h0M472.0 950.9h0M467.8 947.8h0M462.6 955.2h0M461.3 954.2h0M472.8 938.0h0M471.5 945.0h0M474.3 938.5h0M463.8 952.8h0M476.3 944.3h0M468.1 942.6h0M474.0 944.4h0M462.4 954.9h0M466.6 948.1h0M462.5 955.2h0M467.6 945.1h0M476.0 937.8h0M472.2 938.4h0M470.9 943.6h0M468.9 949.5h0M479.1 941.2h0M474.6 940.4h0M464.2 951.5h0M468.1 946.6h0M462.2 955.5h0M469.5 949.8h0M465.2 952.7h0M466.3 949.6h0M485.7 931.1h0M473.0 943.0h0M462.5 954.0h0M466.6 946.3h0M461.6 954.0h0M462.9 952.0h0M477.4 928.7h0M464.7 950.6h0M463.8 953.3h0M470.9 950.9h0M469.6 945.3h0M476.9 933.6h0M464.7 951.8h0M464.6 950.7h0M492.6 904.4h0M473.0 932.7h0M471.4 942.5h0M470.9 945.4h0M460.9 954.9h0M462.8 951.8h0M468.2 944.7h0M470.8 950.0h0M474.5 934.7h0M481.0 928.8h0M479.2 934.7h0M465.1 955.2h0M460.8 955.3h0M464.4 952.7h0M477.0 944.0h0M474.2 935.1h0M464.2 953.6h0M478.0 914.1h0M465.3 951.0h0M461.1 955.5h0M464.7 949.3h0M479.4 944.7h0M476.5 925.5h0M469.6 943.4h0M460.6 955.1h0M467.6 950.8h0M463.0 952.1h0M470.2 946.5h0M470.6 947.7h0M470.8 936.9h0M471.6 940.9h0M464.4 954.5h0M463.4 955.0h0M468.0 944.1h0M468.6 941.5h0M464.2 951.5h0M478.2 914.3h0M474.5 928.3h0M460.6 955.4h0M462.3 953.5h0M477.2 949.7h0M460.7 954.7h0M479.0 938.4h0M478.9 935.1h0M480.6 936.8h0M475.8 934.1h0M472.3 945.6h0M480.2 941.6h0M471.9 951.5h0M466.5 949.7h0M468.5 950.1h0M468.6 949.7h0M472.1 942.2h0M478.6 944.6h0M465.2 950.6h0M467.5 944.4h0M464.3 950.2h0M461.1 954.8h0M468.5 943.1h0M469.6 944.6h0M466.9 949.4h0M467.9 946.5h0M490.7 936.0h0M462.8 952.0h0M468.7 943.0h0M463.4 953.8h0M467.0 953.1h0M464.1 952.4h0M477.1 945.3h0M478.6 920.1h0M468.4 943.5h0M467.4 948.5h0M461.8 953.6h0M464.6 953.9h0M467.4 946.3h0M478.2 924.1h0M463.6 955.4h0M474.9 947.6h0M472.6 940.1h0M465.4 952.3h0M462.6 955.1h0M472.9 945.0h0M472.0 944.8h0M473.0 944.2h0M473.5 936.5h0M461.6 953.3h0M473.3 947.4h0M476.0 933.6h0M465.8 949.2h0M463.2 955.0h0M461.8 954.2h0M464.9 953.3h0M469.4 949.3h0M472.8 938.2h0M466.4 953.4h0M463.5 951.6h0M463.2 954.3h0M470.3 944.2h0M464.9 954.0h0M471.9 951.4h0M473.3 942.5h0M480.6 937.2h0M469.1 950.1h0M465.7 947.1h0M467.4 944.1h0M485.3 934.5h0M471.3 939.7h0M465.3 948.1h0M468.9 945.9h0M473.3 929.6h0M477.9 917.0h0M466.9 947.3h0M466.0 953.7h0M471.1 942.5h0M465.8 954.7h0M471.1 935.1h0M467.8 949.5h0M486.0 896.8h0M473.7 942.0h0M489.9 924.4h0M485.6 932.6h0M473.1 948.2h0M465.8 951.3h0M462.7 955.4h0M482.3 923.8h0M472.6 944.9h0M474.0 940.1h0M471.0 944.9h0M461.3 953.9h0M464.5 953.0h0M463.4 954.1h0M465.4 948.8h0M476.2 947.2h0M483.4 931.7h0M478.1 935.2h0M474.0 930.2h0M482.2 926.1h0M464.4 950.0h0M460.4 955.4h0M468.2 949.6h0M473.3 940.9h0M462.2 955.1h0M477.8 941.7h0M463.7 953.7h0M465.3 951.6h0M466.8 954.7h0M480.9 940.2h0M479.0 936.9h0M465.5 949.1h0M471.0 936.7h0M463.8 953.2h0M462.4 955.1h0M470.4 950.2h0M463.5 951.2h0M473.2 938.7h0M472.3 941.1h0M479.1 922.4h0M481.7 915.5h0M475.9 937.4h0M460.3 955.0h0M470.8 941.7h0M463.3 952.1h0M472.7 944.4h0M464.9 955.0h0M468.4 952.8h0M468.1 953.6h0M487.2 941.5h0M464.6 949.5h0M461.9 954.9h0M464.8 953.4h0M462.3 953.8h0M471.4 944.1h0M469.3 943.5h0M460.9 954.8h0M468.8 944.9h0M465.5 954.3h0M468.3 946.3h0M468.8 949.6h0M471.9 938.2h0M462.6 954.2h0M469.5 939.5h0M473.2 945.6h0M468.5 943.8h0M467.7 945.2h0M486.9 937.2h0M465.1 949.8h0M478.6 925.3h0M467.9 952.5h0M465.6 951.8h0M464.8 949.0h0M462.6 953.8h0M468.8 953.4h0M466.1 951.7h0M466.0 952.5h0M475.8 937.8h0M472.6 935.3h0M465.5 954.2h0M476.5 938.9h0M473.1 947.8h0M461.9 954.0h0M476.7 940.2h0M480.7 940.5h0M469.1 943.7h0M462.8 953.2h0M469.2 950.5h0M468.8 953.1h0M462.6 952.6h0M479.6 934.3h0M477.9 933.8h0M466.6 952.6h0M468.8 953.8h0M462.3 953.0h0M463.3 953.4h0M463.1 953.0h0M469.9 938.8h0M469.1 944.0h0M461.6 954.9h0M472.0 941.5h0M464.5 953.1h0M473.5 941.0h0M462.1 954.2h0M471.2 942.6h0M462.5 954.9h0M463.7 951.8h0M461.1 954.9h0M463.9 953.6h0M469.8 940.2h0M469.6 946.7h0M478.6 923.5h0M464.6 953.2h0M471.8 939.9h0M475.7 946.7h0M465.8 949.5h0M472.2 933.4h0M463.2 951.8h0M469.8 943.4h0M471.1 950.6h0M465.3 952.4h0M462.1 953.6h0M460.3 955.4h0M476.4 937.0h0M477.7 948.5h0M471.9 937.6h0M470.1 943.6h0M467.8 943.5h0M470.4 950.3h0M466.4 949.7h0M468.8 942.0h0M473.1 935.4h0M465.6 948.9h0M470.8 947.6h0M468.0 945.1h0M471.4 941.9h0M461.0 955.5h0M461.6 955.1h0M469.8 948.1h0M463.6 951.8h0M471.0 943.6h0M467.5 946.5h0M472.4 935.3h0M468.2 943.1h0M471.5 938.5h0M464.8 948.8h0M470.0 943.2h0M482.7 931.0h0M460.7 955.0h0M469.6 947.7h0M467.8 948.2h0M469.7 948.6h0M471.0 941.6h0M467.3 950.0h0M460.9 954.3h0M462.8 952.8h0M467.0 949.4h0M468.1 954.2h0M467.1 952.5h0M461.1 955.5h0M463.7 951.4h0M466.9 952.0h0M466.3 951.3h0M482.3 913.8h0M469.8 945.8h0M466.3 947.4h0M466.8 947.2h0M461.1 955.1h0M473.7 948.7h0M463.1 953.1h0M461.2 954.5h0M471.0 936.0h0M476.9 939.4h0M462.1 954.5h0M471.1 948.1h0M483.3 936.4h0M461.4 955.0h0M469.6 943.3h0M472.9 932.1h0M461.3 955.1h0M473.3 946.5h0M476.3 927.7h0M482.9 907.5h0M464.6 954.8h0M477.5 935.5h0M461.5 955.0h0M465.6 950.6h0M469.9 952.9h0M469.3 950.8h0M468.2 945.1h0M468.3 948.5h0M464.2 952.6h0M487.5 929.9h0M472.2 934.9h0M462.4 952.7h0M481.4 943.5h0M482.8 953.2h0M465.7 951.7h0M465.1 955.3h0M465.5 954.1h0M464.7 951.5h0M468.0 954.0h0M471.5 948.6h0M465.3 954.9h0M466.9 951.2h0M464.5 951.8h0M465.7 954.7h0M488.5 940.5h0M467.2 949.4h0M470.2 954.8h0M472.8 943.3h0M471.3 941.2h0M480.2 943.8h0M472.0 954.9h0M473.0 937.6h0M469.7 948.2h0M462.9 953.3h0M464.0 954.9h0M470.7 949.0h0M468.0 944.9h0M475.7 941.4h0M473.8 947.9h0M471.4 949.9h0M465.0 955.3h0M484.2 943.4h0M466.7 950.4h0M485.5 953.7h0M466.9 952.3h0M464.9 951.2h0M465.1 955.2h0M461.6 954.0h0M464.4 955.3h0M463.4 954.7h0M466.1 951.9h0M468.2 943.5h0M483.1 941.1h0M471.5 947.5h0M467.0 954.8h0M468.8 953.4h0M468.8 943.1h0M471.7 943.1h0M480.3 953.3h0M497.1 945.0h0M481.9 947.2h0M479.1 945.3h0M466.6 950.2h0M471.0 939.7h0M462.7 954.2h0M465.2 950.7h0M465.4 949.8h0M467.8 953.7h0M466.6 947.6h0M467.3 955.0h0M475.1 943.1h0M482.8 952.9h0M466.5 952.9h0M482.0 954.9h0M481.5 936.6h0M462.2 954.9h0M488.3 953.3h0M466.1 951.9h0M467.4 952.0h0M483.3 944.5h0M466.5 953.4h0M481.8 952.2h0M471.6 953.4h0M473.1 938.9h0M462.3 953.2h0M477.7 943.9h0M477.6 946.7h0M473.2 942.9h0M466.9 955.1h0M467.8 950.9h0M464.3 952.1h0M466.1 954.1h0M475.2 950.4h0M463.1 955.0h0M480.2 946.8h0M466.7 950.7h0M471.3 949.2h0M466.2 955.1h0M472.1 949.6h0M476.3 951.2h0M465.2 952.2h0M469.6 951.6h0M485.0 952.4h0M478.1 946.7h0M464.9 950.5h0M469.6 949.1h0M471.1 954.9h0M474.2 953.2h0M493.2 942.4h0M470.3 951.3h0M466.5 953.3h0M473.2 951.8h0M498.1 942.7h0M483.2 950.3h0M461.7 954.4h0M463.1 955.4h0M464.4 951.1h0M475.6 949.7h0M465.4 953.6h0M475.3 944.9h0M467.9 950.8h0M469.3 945.4h0M467.0 951.2h0M466.4 946.9h0M479.0 946.3h0M485.1 950.4h0M474.8 938.5h0M468.6 951.6h0M470.5 953.8h0M464.3 955.0h0M481.3 943.8h0M480.9 942.4h0M470.0 949.7h0M489.2 951.8h0M471.4 940.3h0M466.5 954.0h0M470.5 955.3h0M469.3 953.2h0M463.2 954.8h0M472.5 943.3h0M461.5 954.4h0M473.2 951.5h0M473.3 954.0h0M462.7 954.1h0M476.3 953.9h0M495.8 941.0h0M475.0 949.4h0M471.0 952.8h0M468.0 952.1h0M464.4 953.1h0M480.7 952.6h0M466.1 952.9h0M476.1 954.9h0M465.3 948.5h0M470.1 954.2h0M475.3 935.8h0M472.7 946.7h0M467.0 952.0h0M473.4 945.3h0M474.6 954.6h0M479.9 934.4h0M466.8 948.3h0M475.0 948.3h0M484.5 954.2h0M470.5 945.2h0M486.5 952.4h0M468.2 946.7h0M472.7 953.5h0M461.4 955.0h0M461.4 955.5h0M466.0 954.0h0M468.1 948.8h0M471.5 951.5h0M467.5 955.1h0M466.8 954.4h0M468.0 949.8h0M466.8 954.9h0M464.2 955.5h0M471.9 943.7h0M471.3 952.3h0M477.1 948.0h0M468.9 949.6h0M465.6 951.7h0M475.1 947.9h0M472.8 937.5h0M469.5 950.1h0M472.1 949.4h0M467.7 952.9h0M479.2 953.1h0M472.1 954.2h0M468.0 953.1h0M466.1 950.8h0M467.5 945.7h0M475.8 948.5h0M466.7 952.0h0M471.1 953.3h0M468.2 952.2h0M472.3 955.3h0M484.8 947.4h0M462.9 952.6h0M499.9 940.2h0M468.3 949.0h0M462.0 954.2h0M480.4 935.2h0M479.0 944.0h0M468.2 950.6h0M464.7 951.0h0M468.4 954.5h0M469.2 950.0h0M466.9 946.3h0M470.6 944.6h0M464.4 953.0h0M472.3 950.3h0M466.2 947.5h0M469.7 940.7h0M470.5 946.7h0M469.5 954.4h0M461.9 953.0h0M471.5 952.7h0M493.1 941.1h0M476.6 947.4h0M472.2 945.6h0M498.3 934.4h0M464.1 950.9h0M467.0 953.0h0M466.2 947.6h0M469.2 944.2h0M481.9 927.2h0M470.7 943.7h0M478.4 939.7h0M464.7 952.3h0M481.8 910.5h0M465.4 950.7h0M464.3 951.0h0M465.4 949.6h0M475.1 946.8h0M461.5 954.6h0M485.1 935.1h0M468.8 945.4h0M497.0 922.1h0M480.1 916.1h0M465.0 955.4h0M477.2 925.0h0M473.7 934.2h0M469.9 950.1h0M488.9 926.1h0M470.0 938.8h0M470.4 941.5h0M481.7 934.9h0M474.9 934.5h0M486.1 938.2h0M490.2 879.0h0M470.3 941.7h0M473.1 932.7h0M474.8 938.0h0M482.4 950.6h0M505.3 949.4h0M488.4 953.2h0M490.2 950.4h0M511.5 848.9h0M495.0 861.7h0M498.4 864.7h0M511.2 870.1h0M508.5 888.7h0M488.2 891.1h0M491.6 900.2h0M482.5 903.5h0M484.9 903.5h0M511.5 903.5h0M516.9 907.9h0M505.1 910.6h0M511.2 917.4h0M501.1 920.4h0M524.0 927.2h0M481.5 911.3h0M479.1 913.7h0M489.2 913.7h0M482.5 919.7h0M493.3 920.4h0M490.9 923.8h0M486.5 926.5h0M478.4 923.1h0M474.1 928.2h0M485.9 931.6h0M514.6 946.1h0M505.4 950.1h0M511.2 947.4h0" stroke="#ff0033" stroke-width="2.2" stroke-linecap="round" fill="none"/>
<path d="M328.3 955.5H533.3" stroke="#111" stroke-width="1.25" stroke-dasharray="1.6 2.7 5.6 2.7" fill="none"/>
<rect x="328.3" y="716.8" width="205.0" height="252.4" fill="none" stroke="#595959" stroke-width="1.3"/>
<path d="M328.8 878.0V920.0" stroke="#199e6e" stroke-width="1" stroke-opacity="0.4" stroke-dasharray="1.5 3" fill="none"/>
<path d="M328.8 920.0V955.0" stroke="#199e6e" stroke-width="1" stroke-opacity="0.5" stroke-dasharray="3 1" fill="none"/>
<path d="M328.8 956.0V959.2" stroke="#0a5acd" stroke-width="1" stroke-opacity="0.85" stroke-dasharray="" fill="none"/>
<path d="M532.8 925.0V955.0" stroke="#ff0033" stroke-width="1" stroke-opacity="0.35" stroke-dasharray="1.5 3.5" fill="none"/>
<path d="M532.8 956.0V959.2" stroke="#0a5acd" stroke-width="1" stroke-opacity="0.8" stroke-dasharray="" fill="none"/>
<path d="M354.9 969.2v4.6M403.9 969.2v4.6M452.8 969.2v4.6M501.8 969.2v4.6M328.3 800.9h-5M328.3 879.9h-5M328.3 955.5h-5M328.3 958.6h-5" stroke="#4d4d4d" stroke-width="1" fill="none"/>
<g class="tick">
<text x="354.9" y="985.7" text-anchor="middle">-10</text>
<text x="403.9" y="985.7" text-anchor="middle">-5</text>
<text x="452.8" y="985.7" text-anchor="middle">0</text>
<text x="501.8" y="985.7" text-anchor="middle">5</text>
<text x="319.8" y="804.8" text-anchor="end">78</text>
<text x="319.8" y="883.8" text-anchor="end">39</text>
<text x="319.8" y="959.4" text-anchor="end">1.3</text>
<text x="319.8" y="962.5" text-anchor="end">0</text>
</g>
<text class="ttl" x="437.4" y="705.8" text-anchor="middle">Δ<tspan class="it">AfRafA</tspan> vs WT</text>
<text class="axt" transform="translate(296.4 844.5) rotate(-90)" text-anchor="middle">−log<tspan font-size="9.8" dy="2.6">10</tspan><tspan dy="-2.6">(padj)</tspan></text>
<text class="axt" x="430.6" y="1002.0" text-anchor="middle">log<tspan font-size="9.8" dy="2.6">2</tspan><tspan dy="-2.6">(fold change)</tspan></text>
</g>
<g>
<polygon fill="#199e6e" points="710.2,951.3 709.0,950.5 707.9,949.6 706.9,948.8 705.9,947.9 705.0,947.1 704.2,946.3 703.4,945.4 702.6,944.6 701.9,943.7 701.1,942.9 700.5,942.0 699.8,941.2 699.1,940.4 698.5,939.5 696.1,939.5 695.8,940.4 695.5,941.2 695.3,942.0 695.0,942.9 694.7,943.7 694.4,944.6 694.1,945.4 693.7,946.3 693.4,947.1 693.1,947.9 692.7,948.8 692.3,949.6 691.9,950.5 691.3,951.3"/>
<polygon fill="#ff0033" points="731.8,951.3 732.8,950.6 733.7,949.9 734.5,949.3 735.3,948.6 736.1,947.9 736.8,947.2 737.5,946.5 738.2,945.9 738.8,945.2 739.5,944.5 740.1,943.8 740.6,943.1 741.2,942.5 741.8,941.8 743.3,941.8 743.6,942.5 744.0,943.1 744.4,943.8 744.8,944.5 745.2,945.2 745.6,945.9 746.0,946.5 746.4,947.2 746.8,947.9 747.3,948.6 747.8,949.3 748.3,949.9 748.8,950.6 749.6,951.3"/>
<polygon fill="#0a5acd" points="665.9,951.3 710.2,951.3 711.6,952.1 712.9,952.8 714.3,953.4 715.6,953.9 717.0,954.3 718.3,954.6 719.7,954.7 721.0,954.5 722.3,954.7 723.7,954.6 725.0,954.3 726.4,953.9 727.7,953.4 729.1,952.8 730.4,952.1 731.8,951.3 770.8,951.3 770.8,951.3 766.4,954.2 762.1,954.8 757.7,955.2 753.3,955.4 749.0,955.6 744.6,955.7 740.2,955.7 735.8,955.8 731.5,955.8 727.1,955.8 722.7,955.8 718.4,955.8 714.0,955.8 709.6,955.8 705.2,955.8 700.9,955.7 696.5,955.7 692.1,955.6 687.7,955.5 683.4,955.3 679.0,955.1 674.6,954.7 670.3,954.2 665.9,951.3"/>
<path d="M637.3 954.0h0M648.1 952.4h0M643.0 952.4h0M617.9 952.6h0M664.5 953.5h0M638.8 952.7h0M645.1 954.2h0M663.0 952.3h0M628.9 952.6h0M619.4 952.6h0M649.2 952.8h0M638.5 954.1h0M656.7 953.6h0M627.3 954.2h0M626.9 952.8h0M655.2 953.4h0M775.3 953.6h0M777.3 953.1h0M776.1 952.7h0M786.1 954.4h0M789.4 954.2h0M779.1 953.7h0M788.2 952.0h0M772.0 952.8h0M773.9 953.3h0M788.6 952.6h0" stroke="#0a5acd" stroke-width="2.2" stroke-linecap="round" fill="none"/>
<path d="M693.7 942.7h0M700.0 948.0h0M688.0 926.9h0M694.4 941.5h0M697.3 943.6h0M696.9 941.0h0M701.5 944.3h0M692.2 937.7h0M680.3 924.5h0M707.4 950.0h0M703.9 947.9h0M695.5 937.2h0M705.0 948.5h0M699.2 943.7h0M706.8 949.2h0M679.1 930.3h0M707.6 950.0h0M704.8 947.4h0M705.6 949.0h0M698.9 945.1h0M691.5 943.4h0M706.3 950.6h0M694.2 935.9h0M706.8 951.1h0M693.5 947.4h0M704.2 949.5h0M708.9 951.0h0M692.2 938.0h0M699.6 944.1h0M678.5 918.0h0M694.7 946.1h0M707.2 950.2h0M697.1 941.4h0M668.5 936.7h0M693.1 945.5h0M679.2 930.6h0M689.7 944.0h0M695.6 938.3h0M701.3 948.1h0M705.4 949.0h0M698.3 950.5h0M697.8 939.7h0M689.0 945.9h0M707.9 949.8h0M682.8 935.8h0M705.9 950.1h0M680.4 937.5h0M682.2 937.0h0M702.5 951.2h0M704.2 947.3h0M701.0 947.1h0M706.6 949.0h0M707.5 949.9h0M701.0 949.9h0M696.8 945.0h0M709.3 951.1h0M702.8 946.7h0M693.7 933.0h0M701.9 946.4h0M706.5 948.7h0M678.1 912.3h0M671.7 915.3h0M696.4 947.2h0M698.6 948.5h0M690.9 935.4h0M705.0 950.5h0M697.0 949.0h0M691.4 934.2h0M680.6 927.1h0M676.3 940.1h0M700.2 945.3h0M694.7 936.4h0M708.7 951.0h0M701.2 944.7h0M695.7 936.8h0M686.4 943.8h0M699.6 942.7h0M689.3 942.3h0M697.8 944.4h0M696.3 943.4h0M688.2 945.1h0M703.9 948.3h0M695.9 947.6h0M676.8 930.1h0M692.8 945.2h0M685.6 941.9h0M704.1 946.9h0M701.1 947.4h0M684.8 933.6h0M690.4 933.4h0M702.9 946.9h0M676.4 935.5h0M696.9 938.5h0M693.0 947.4h0M699.2 944.0h0M706.2 948.5h0M692.1 943.2h0M706.5 950.5h0M692.4 949.3h0M706.7 949.9h0M702.3 946.6h0M700.3 947.3h0M699.7 942.2h0M697.4 942.4h0M677.8 924.5h0M703.1 949.5h0M704.2 949.5h0M689.5 940.9h0M697.9 941.1h0M671.3 938.2h0M692.5 937.0h0M702.7 949.4h0M691.5 942.9h0M689.6 936.5h0M691.9 941.2h0M686.5 938.5h0M684.8 941.4h0M695.1 946.4h0M675.0 933.3h0M678.3 926.7h0M700.0 947.8h0M702.8 946.8h0M688.1 926.8h0M704.5 950.1h0M698.9 948.4h0M702.8 948.9h0M695.0 944.4h0M700.4 946.5h0M704.6 949.0h0M705.1 949.1h0M694.9 940.6h0M684.3 938.5h0M699.0 941.6h0M702.2 946.2h0M689.4 929.2h0M704.1 947.1h0M682.3 926.4h0M700.1 943.6h0M701.6 944.4h0M681.5 934.4h0M674.1 906.4h0M671.6 933.9h0M688.3 930.3h0M698.9 941.5h0M703.1 946.6h0M696.6 940.5h0M670.6 935.0h0M697.7 939.5h0M702.7 949.5h0M684.6 933.7h0M684.0 930.1h0M698.6 949.5h0M677.1 940.7h0M702.5 946.0h0M667.6 925.9h0M707.2 951.2h0M675.0 929.8h0M699.9 948.9h0M688.6 947.4h0M688.9 944.5h0M688.2 929.0h0M681.2 912.0h0M676.5 902.9h0M693.7 937.2h0M693.9 935.8h0M685.8 929.5h0M687.9 935.7h0M705.7 950.5h0M695.7 938.0h0M698.6 945.1h0M688.4 923.7h0M699.2 949.8h0M666.9 928.1h0M706.7 949.4h0M693.6 944.9h0M695.9 945.8h0M698.7 944.3h0M706.2 950.5h0M681.0 939.5h0M671.9 918.1h0M697.7 942.9h0M701.2 951.0h0M709.4 951.2h0M697.0 948.2h0M686.5 926.0h0M704.3 950.6h0M708.0 950.2h0M699.0 947.5h0M700.2 949.4h0M688.1 926.1h0M692.2 936.2h0M688.0 936.8h0M686.0 936.9h0M682.2 922.9h0M689.7 941.9h0M674.7 939.1h0M688.5 926.8h0M689.3 933.0h0M703.4 948.0h0M701.7 945.9h0M705.0 948.7h0M687.1 926.7h0M688.8 936.1h0M681.3 914.5h0M697.9 948.5h0M688.1 941.2h0M703.1 947.5h0M693.9 943.7h0M708.5 950.6h0M701.0 949.3h0M674.9 919.8h0M699.3 950.2h0M702.0 950.9h0M698.8 940.5h0M698.7 944.9h0M693.6 947.8h0M680.8 916.3h0M676.4 924.1h0M695.2 950.4h0M685.3 939.8h0M689.4 938.1h0M694.8 948.7h0M704.1 949.1h0M699.0 949.7h0M695.9 937.1h0M675.3 924.5h0M671.8 918.5h0M697.8 947.6h0M704.0 948.2h0M708.8 950.9h0M706.2 948.8h0M690.3 933.5h0M691.9 930.6h0M698.6 942.2h0M688.2 934.6h0M692.9 933.1h0M699.4 943.7h0M700.2 943.4h0M690.2 945.9h0M694.4 935.2h0M679.3 941.2h0M695.4 946.7h0M695.7 942.2h0M698.8 941.6h0M702.5 946.0h0M691.3 948.2h0M701.2 943.3h0M693.8 940.6h0M694.4 942.6h0M678.7 925.0h0M692.1 932.9h0M682.9 940.6h0M701.5 947.7h0M694.8 945.0h0M706.5 950.6h0M668.0 934.3h0M700.4 948.4h0M688.8 935.0h0M695.9 939.0h0M708.4 951.3h0M697.2 943.3h0M697.6 941.1h0M686.2 940.0h0M689.4 943.4h0M696.2 948.1h0M697.0 948.0h0M697.5 949.6h0M708.1 951.1h0M699.4 948.0h0M700.7 950.4h0M689.1 944.7h0M689.5 931.9h0M701.3 947.2h0M702.6 949.0h0M696.4 937.2h0M698.5 941.2h0M688.5 935.6h0M695.6 941.0h0M699.1 944.1h0M705.5 950.7h0M704.7 948.2h0M697.6 945.1h0M697.4 942.3h0M685.7 936.5h0M705.5 949.7h0M703.8 947.5h0M695.9 944.2h0M680.2 946.1h0M703.4 948.8h0M678.5 911.4h0M705.5 948.8h0M702.7 947.3h0M702.7 945.9h0M696.3 939.3h0M708.5 950.9h0M679.7 941.3h0M706.3 949.5h0M708.6 950.6h0M694.3 946.9h0M690.6 945.4h0M703.6 949.3h0M699.4 949.9h0M702.3 946.6h0M688.4 927.5h0M690.6 939.1h0M700.4 948.0h0M686.9 938.7h0M688.6 938.0h0M705.3 948.9h0M691.2 933.3h0M704.0 949.1h0M696.2 947.9h0M696.0 947.8h0M705.1 950.0h0M699.8 951.0h0M676.3 924.4h0M702.6 946.6h0M685.6 920.2h0M675.3 941.8h0M674.0 921.1h0M687.6 923.3h0M709.6 951.2h0M693.2 945.2h0M696.5 941.4h0M700.3 945.1h0M697.9 940.7h0M699.5 949.9h0M698.3 951.3h0M695.9 946.2h0M686.0 941.8h0M708.5 951.1h0M701.1 949.1h0M687.2 936.1h0M684.2 934.8h0M705.1 950.5h0M695.7 940.2h0M696.6 942.0h0M705.4 949.2h0M694.1 945.9h0M702.4 947.8h0M683.6 946.1h0M670.1 917.1h0M699.8 945.5h0M676.2 921.4h0M697.8 942.4h0M694.4 946.3h0M705.3 951.0h0M677.7 941.1h0M705.4 949.4h0M687.3 931.5h0M697.3 944.2h0M678.0 935.7h0M696.5 942.8h0M681.9 918.8h0M690.0 944.2h0M699.2 947.0h0M697.1 947.2h0M682.4 938.9h0M700.6 945.9h0M687.6 945.7h0M701.5 949.2h0M704.3 948.4h0M695.0 945.2h0M703.2 947.5h0M703.4 948.4h0M692.5 944.4h0M682.9 942.5h0M694.8 939.4h0M702.3 946.2h0M701.7 949.5h0M707.6 951.1h0M692.5 940.7h0M695.8 937.3h0M692.1 937.1h0M705.5 949.8h0M706.6 951.0h0M687.2 930.4h0M699.8 942.2h0M682.9 928.1h0M705.9 948.9h0M686.8 945.7h0M700.2 946.3h0M699.0 944.2h0M696.3 946.6h0M681.9 941.8h0M690.5 945.1h0M704.3 947.1h0M700.9 945.2h0M700.2 948.8h0M701.0 949.6h0M704.7 950.3h0M702.0 946.4h0M695.8 950.3h0M680.5 906.9h0M703.5 946.5h0M706.5 950.6h0M705.9 948.8h0M667.8 901.5h0M688.8 933.3h0M706.6 951.2h0M703.2 946.8h0M692.5 935.6h0M700.5 946.4h0M685.1 931.7h0M683.7 943.7h0M697.5 944.2h0M694.2 941.4h0M680.7 929.6h0M702.6 946.0h0M701.3 947.2h0M695.1 938.2h0M706.9 949.6h0M677.4 935.5h0M697.3 948.5h0M694.5 948.3h0M702.3 948.1h0M707.5 950.1h0M697.0 945.2h0M704.9 947.9h0M684.6 923.4h0M706.5 950.6h0M699.4 948.7h0M672.0 912.7h0M700.9 947.3h0M684.7 945.2h0M696.6 946.8h0M687.6 930.1h0M682.6 928.8h0M701.5 950.0h0M673.3 898.6h0M687.9 931.9h0M697.1 939.6h0M668.4 899.2h0M686.3 922.2h0M694.9 936.7h0M699.8 950.3h0M687.9 930.5h0M701.3 943.5h0M702.6 946.5h0M681.9 927.1h0M689.6 940.1h0M701.4 947.2h0M677.2 904.2h0M676.7 943.1h0M687.4 927.1h0M703.7 949.0h0M703.4 948.9h0M703.2 949.6h0M701.6 945.0h0M689.6 942.6h0M706.6 949.8h0M698.7 942.9h0M704.3 949.7h0M693.8 935.7h0M684.7 917.1h0M692.2 941.2h0M688.9 934.1h0M698.5 948.5h0M704.4 951.1h0M707.5 950.0h0M677.5 934.3h0M702.9 946.8h0M706.1 950.5h0M682.2 934.4h0M691.4 942.7h0M688.5 940.5h0M708.5 950.9h0M702.3 945.3h0M696.1 941.3h0M703.3 948.1h0M705.3 948.3h0M699.3 946.6h0M693.9 942.9h0M656.2 894.9h0M685.8 938.5h0M690.7 932.0h0M693.2 940.4h0M696.2 945.5h0M699.3 947.1h0M701.2 946.7h0M702.2 947.2h0M705.6 949.8h0M695.8 946.6h0M699.1 945.0h0M687.3 944.3h0M701.2 950.0h0M700.7 944.2h0M701.7 945.4h0M675.3 916.9h0M689.9 938.1h0M689.3 929.6h0M674.7 940.3h0M695.5 941.7h0M683.9 928.4h0M705.9 950.4h0M678.6 933.1h0M696.6 940.3h0M696.5 942.7h0M686.4 920.5h0M703.4 949.1h0M705.2 948.8h0M683.5 927.3h0M695.7 942.0h0M703.7 948.6h0M688.2 940.2h0M690.0 932.2h0M705.8 951.1h0M681.0 935.8h0M690.4 933.1h0M693.1 932.1h0M696.8 948.3h0M701.8 945.2h0M700.1 947.7h0M687.8 936.6h0M696.8 943.9h0M678.6 938.6h0M700.9 948.6h0M697.1 942.7h0M699.0 941.0h0M687.7 933.9h0M706.5 949.3h0M704.8 949.9h0M701.0 945.9h0M699.9 942.6h0M691.1 939.1h0M698.2 943.7h0M700.7 949.6h0M702.9 947.7h0M707.9 950.7h0M702.8 946.1h0M702.6 945.3h0M703.5 950.1h0M698.3 943.7h0M704.6 947.7h0M695.8 939.1h0M696.0 938.3h0M701.2 947.2h0M687.7 935.7h0M696.9 947.1h0M705.8 948.6h0M676.8 930.7h0M689.6 945.6h0M703.8 948.2h0M703.3 947.3h0M687.8 923.4h0M683.8 936.7h0M690.9 934.0h0M688.0 942.2h0M695.2 937.0h0M705.1 947.8h0M689.2 948.9h0M702.4 946.8h0M689.9 932.1h0M694.5 935.6h0M708.2 951.0h0M672.2 939.7h0M676.8 929.5h0M683.5 914.6h0M702.1 945.9h0M678.3 937.9h0M687.8 930.0h0M675.5 922.8h0M704.6 948.0h0M692.3 933.7h0M672.6 926.8h0M703.9 951.1h0M700.1 944.0h0M699.5 941.7h0M699.6 948.6h0M694.6 943.4h0M706.4 950.0h0M691.4 933.7h0M698.8 944.8h0M702.7 945.1h0M673.3 914.1h0M700.3 948.7h0M698.4 941.8h0M688.1 931.6h0M706.0 951.1h0M675.7 931.0h0M701.1 947.1h0M695.5 941.3h0M676.9 914.4h0M709.5 951.2h0M704.9 949.9h0M701.0 947.5h0M692.5 945.1h0M703.6 947.7h0M700.5 944.4h0M695.5 940.5h0M704.0 947.9h0M693.0 934.2h0M703.5 950.3h0M685.2 948.2h0M698.6 944.9h0M691.6 942.1h0M690.3 943.0h0M704.0 947.8h0M703.6 947.2h0M700.0 945.5h0M692.2 948.0h0M701.8 944.7h0M701.4 946.8h0M698.2 946.5h0M705.5 949.0h0M695.5 949.6h0M695.9 949.5h0M695.4 946.3h0M702.5 946.0h0M694.4 944.9h0M687.5 939.8h0M704.6 950.9h0M685.7 951.1h0M698.8 949.0h0M697.0 945.9h0M695.0 947.8h0M686.2 948.4h0M692.6 937.3h0M702.0 948.8h0M705.7 950.6h0M670.1 940.5h0M696.1 945.8h0M707.5 949.8h0M699.2 947.8h0M708.2 951.1h0M692.1 947.0h0M699.7 945.2h0M683.6 945.7h0M644.3 932.9h0M694.1 934.8h0M678.1 946.1h0M691.1 950.2h0M687.3 950.8h0M696.3 950.5h0M684.1 924.6h0M679.2 949.2h0M685.0 946.1h0M697.7 939.6h0M693.8 949.9h0M665.3 945.8h0M696.7 941.9h0M704.0 951.0h0M697.8 948.5h0M691.2 949.1h0M681.2 943.5h0M671.7 940.0h0M702.7 949.8h0M678.4 940.4h0M685.4 949.5h0M689.8 946.5h0M701.6 947.7h0M682.2 933.2h0M705.8 950.1h0M696.5 944.6h0M697.7 947.5h0M686.1 925.7h0M706.3 950.6h0M675.6 937.7h0M676.4 943.6h0M703.4 950.5h0M697.6 944.3h0M677.4 943.4h0M705.2 949.9h0M706.5 951.2h0M701.7 948.6h0M692.1 938.2h0M695.2 940.4h0M691.6 946.8h0M700.0 942.9h0M699.3 949.4h0M692.2 931.2h0M708.6 950.6h0M677.3 930.0h0M691.8 930.3h0M691.0 948.1h0M668.5 937.8h0M700.7 944.5h0M701.6 948.2h0M688.6 941.8h0M684.4 934.5h0M671.0 942.7h0M693.6 936.3h0M689.3 944.4h0M700.1 945.8h0M704.1 950.6h0M692.4 944.1h0M678.8 949.5h0M673.9 944.2h0M692.4 933.8h0M705.9 949.9h0M670.3 936.4h0M683.0 932.9h0M706.7 951.2h0M692.0 949.8h0M690.4 933.5h0M691.2 942.2h0M704.7 949.4h0M679.7 944.0h0M684.9 934.1h0M705.9 949.1h0M699.6 944.0h0M699.9 950.1h0M696.1 945.4h0M703.2 948.4h0M686.8 937.4h0M673.3 933.4h0M698.7 946.5h0M707.0 951.2h0M689.1 947.7h0M695.5 945.6h0M683.8 945.6h0M681.4 931.1h0M688.5 947.5h0M696.1 949.4h0M705.0 948.3h0M697.5 938.9h0M695.4 938.7h0M685.2 950.0h0M700.8 950.6h0M694.2 937.9h0M694.2 947.1h0M700.2 949.0h0M704.2 948.0h0M701.2 950.7h0M702.1 946.6h0M697.7 945.9h0M689.7 943.0h0M704.8 950.8h0M680.4 926.9h0M697.4 949.4h0M674.9 947.5h0M692.1 944.3h0M668.5 932.6h0M698.2 947.8h0M705.1 950.7h0M702.1 950.2h0M702.9 948.9h0M686.0 938.6h0M675.6 945.2h0M686.6 945.8h0M709.0 951.0h0M705.0 948.7h0M690.1 942.6h0M674.3 943.7h0M674.0 938.6h0M696.5 942.7h0M693.3 944.9h0M685.5 940.5h0M706.5 949.2h0M705.9 950.7h0M695.8 940.3h0M706.7 950.8h0M703.8 947.2h0M698.5 946.5h0M688.7 942.0h0M704.9 949.2h0M703.5 946.3h0M686.9 941.3h0M689.0 949.4h0M705.1 948.9h0M690.1 943.5h0M692.8 938.0h0M682.8 947.9h0M687.2 949.3h0M686.2 934.8h0M673.9 921.3h0M687.0 947.6h0M696.8 947.4h0M701.4 948.4h0M667.8 945.3h0M676.1 925.1h0M682.0 946.0h0M693.2 940.1h0M688.9 948.7h0M680.9 946.0h0M676.0 943.7h0M692.0 931.2h0M694.0 937.3h0M705.5 948.3h0M696.3 937.1h0M694.5 947.1h0M702.0 949.6h0M695.9 937.3h0M698.6 943.8h0M687.2 938.6h0M685.9 947.6h0M693.0 934.9h0M702.6 949.9h0M697.2 944.9h0M690.1 947.8h0M686.2 944.4h0M701.9 949.1h0M702.6 949.7h0M680.1 926.3h0M702.6 944.9h0M671.8 906.3h0M672.9 929.8h0M694.8 934.9h0M678.5 922.9h0M684.5 916.7h0M696.9 945.7h0M703.9 948.2h0M698.5 946.8h0M699.1 947.6h0M706.1 951.0h0M689.1 927.0h0M697.8 948.3h0M689.4 941.1h0M696.1 944.7h0M704.3 947.4h0M700.3 944.7h0M700.9 950.3h0M693.0 944.4h0M703.1 948.0h0M687.0 944.6h0M697.7 941.7h0M697.1 942.2h0M681.5 943.3h0M696.3 940.5h0M699.1 941.4h0M680.7 913.5h0M698.2 943.5h0M692.1 941.5h0M696.8 942.2h0M687.8 922.0h0M704.0 948.9h0M694.4 934.8h0M704.4 948.9h0M694.4 938.0h0M687.2 935.4h0M670.9 926.7h0M700.4 944.7h0M683.6 940.3h0M685.5 943.9h0M660.2 947.3h0M661.9 948.9h0M659.1 936.2h0M672.2 942.0h0M648.7 936.2h0M654.5 945.8h0M647.1 945.5h0M657.0 938.8h0M660.9 940.6h0M656.5 950.6h0M650.8 950.0h0M648.9 929.7h0M641.4 937.5h0M636.7 951.0h0M638.4 938.0h0M669.2 950.9h0M643.1 946.6h0M665.6 946.4h0M643.7 932.1h0M659.5 939.2h0M649.6 948.3h0M639.8 940.5h0M649.0 948.5h0M643.7 950.2h0M671.9 948.4h0M651.0 942.9h0M636.4 943.1h0M657.8 950.6h0M661.4 948.1h0M638.2 946.5h0M637.9 941.4h0M670.9 950.0h0M658.5 945.4h0M664.6 931.8h0M636.3 935.8h0M650.6 949.0h0M658.1 950.1h0M661.2 949.9h0M671.2 946.3h0M646.7 950.6h0M649.3 947.9h0M660.9 942.4h0M654.1 930.3h0M647.0 947.7h0M607.0 951.0h0M634.7 934.8h0M627.8 948.9h0M635.4 931.4h0M595.8 948.9h0M605.0 933.0h0M625.7 946.3h0M626.2 932.3h0M606.6 947.2h0M605.5 941.6h0M610.6 936.7h0M606.6 950.7h0M601.1 950.2h0M600.1 948.5h0M622.2 941.1h0M624.8 944.1h0M606.3 945.0h0M605.8 936.8h0M595.0 946.9h0M602.3 946.9h0M600.7 947.9h0M612.0 724.7h0M619.1 737.2h0M622.5 747.3h0M626.2 765.5h0M629.9 772.3h0M631.9 776.6h0M599.9 787.4h0M610.0 809.0h0M643.1 812.1h0M647.1 823.9h0M655.5 833.3h0M639.3 838.4h0M658.9 855.3h0M662.6 854.6h0M660.9 862.7h0M667.7 868.1h0M647.1 876.9h0M641.7 885.0h0M610.7 886.0h0M660.3 895.1h0M677.5 892.7h0M610.3 898.8h0M596.8 901.5h0M631.2 908.9h0M640.0 912.3h0M667.7 908.9h0M616.7 913.7h0M608.6 919.1h0M614.4 916.4h0M595.8 922.4h0M600.9 924.8h0M605.9 921.4h0M648.8 915.7h0M649.8 919.7h0M646.4 923.8h0M631.2 917.0h0M630.6 929.9h0M617.1 930.9h0M620.4 932.6h0M606.6 930.5h0M604.2 934.9h0M605.9 936.6h0M607.6 940.0h0M639.7 931.6h0M644.7 929.2h0" stroke="#199e6e" stroke-width="2.2" stroke-linecap="round" fill="none"/>
<path d="M743.2 942.0h0M739.3 948.7h0M740.4 947.5h0M743.0 947.5h0M733.4 950.5h0M747.3 941.6h0M748.0 943.1h0M744.3 950.3h0M733.1 951.1h0M739.4 947.2h0M736.9 948.6h0M769.6 934.2h0M740.2 947.0h0M758.3 935.6h0M740.8 947.1h0M733.2 951.1h0M744.2 944.6h0M736.8 948.7h0M751.7 937.3h0M746.6 941.1h0M739.8 947.4h0M740.0 944.2h0M747.5 939.4h0M737.7 949.7h0M745.7 938.1h0M736.3 948.5h0M753.6 923.0h0M736.2 951.2h0M747.3 937.3h0M740.0 949.7h0M735.8 951.1h0M748.1 943.4h0M758.8 921.5h0M734.7 951.2h0M746.6 942.4h0M755.4 928.2h0M746.2 937.5h0M751.8 940.4h0M745.4 937.6h0M764.6 933.8h0M740.6 947.7h0M737.5 950.4h0M741.0 944.1h0M747.6 936.2h0M734.0 949.9h0M745.9 937.7h0M739.9 947.8h0M757.6 945.6h0M747.2 938.9h0M745.5 944.8h0M733.3 951.3h0M741.7 944.1h0M739.9 949.4h0M738.9 948.4h0M737.0 948.6h0M748.2 948.2h0M752.4 925.8h0M748.4 944.5h0M748.4 947.9h0M742.1 951.0h0M737.5 947.3h0M735.3 949.7h0M734.0 950.6h0M745.0 948.6h0M735.8 948.9h0M738.2 949.0h0M754.9 942.4h0M760.0 909.6h0M737.2 947.4h0M750.9 943.4h0M749.5 949.5h0M739.0 947.7h0M740.2 948.1h0M747.6 934.5h0M757.3 927.1h0M739.7 949.2h0M734.1 950.2h0M741.0 951.3h0M739.3 945.5h0M748.5 944.9h0M738.9 949.2h0M750.2 946.5h0M739.9 946.0h0M744.9 941.0h0M741.4 944.9h0M746.2 940.8h0M738.4 949.5h0M750.8 946.7h0M744.3 949.2h0M733.3 950.9h0M735.7 951.0h0M751.2 938.0h0M734.8 949.6h0M757.2 927.4h0M743.8 944.0h0M734.4 950.0h0M748.5 933.9h0M745.4 939.0h0M734.2 950.1h0M757.1 927.8h0M734.8 951.2h0M743.5 941.7h0M742.8 944.4h0M755.6 947.2h0M753.4 944.5h0M760.6 938.2h0M751.3 932.0h0M736.4 950.0h0M737.2 947.5h0M740.7 945.3h0M758.3 933.0h0M742.0 949.7h0M755.6 940.4h0M750.1 948.4h0M747.6 935.5h0M742.8 945.2h0M755.3 933.9h0M739.5 948.9h0M740.4 944.8h0M737.0 948.2h0M749.2 945.7h0M738.9 945.9h0M739.6 947.4h0M741.8 947.4h0M738.1 947.6h0M737.3 950.0h0M752.9 942.9h0M741.5 943.5h0M735.6 950.2h0M747.9 940.1h0M739.3 945.9h0M746.1 941.5h0M736.3 949.8h0M743.1 942.9h0M748.0 944.9h0M746.5 948.0h0M752.4 932.5h0M739.1 946.8h0M745.6 950.5h0M749.5 942.5h0M743.9 945.6h0M744.9 940.9h0M738.7 950.8h0M739.8 947.6h0M738.7 947.7h0M746.7 946.7h0M745.9 945.6h0M737.0 949.2h0M754.9 945.5h0M744.8 951.0h0M754.6 931.6h0M733.6 951.3h0M735.7 950.4h0M744.0 946.0h0M735.6 949.5h0M737.5 947.2h0M740.9 945.3h0M741.2 949.2h0M750.5 943.0h0M734.5 950.9h0M753.3 938.3h0M734.1 950.1h0M744.0 948.9h0M745.0 944.3h0M743.0 944.7h0M743.4 945.2h0M740.1 947.9h0M748.1 934.1h0M749.5 941.1h0M743.1 946.2h0M749.7 942.5h0M736.4 951.2h0M755.8 937.2h0M742.9 947.7h0M736.4 951.0h0M740.6 945.3h0M740.8 946.3h0M740.7 948.1h0M745.9 938.7h0M744.4 947.2h0M737.2 950.1h0M736.2 948.4h0M739.2 948.2h0M742.6 944.1h0M740.2 948.4h0M735.3 949.5h0M739.4 947.5h0M751.8 944.9h0M753.9 928.9h0M750.9 943.9h0M751.1 929.1h0M746.6 942.1h0M736.7 948.6h0M750.2 940.8h0M740.4 945.6h0M746.8 936.7h0M756.5 937.7h0M749.3 936.3h0M733.6 950.8h0M743.8 940.7h0M749.3 941.9h0M753.1 931.3h0M743.1 947.1h0M744.2 942.7h0M739.0 949.0h0M739.2 946.6h0M740.4 944.7h0M741.2 947.7h0M738.9 950.6h0M742.1 946.4h0M752.8 945.8h0M745.6 945.3h0M751.4 928.1h0M745.8 942.9h0M735.6 950.7h0M742.3 947.9h0M750.2 938.5h0M744.2 947.6h0M754.8 929.5h0M740.0 946.8h0M748.2 944.5h0M764.7 916.4h0M744.7 943.1h0M738.8 949.9h0M733.3 950.9h0M737.9 947.4h0M749.8 933.3h0M734.8 949.6h0M743.8 944.8h0M740.7 945.5h0M748.5 935.2h0M741.1 946.5h0M745.2 948.1h0M742.0 943.5h0M746.4 946.1h0M740.6 948.3h0M755.2 934.0h0M740.1 948.4h0M732.7 951.2h0M758.1 943.8h0M751.0 936.1h0M746.3 940.9h0M744.0 944.8h0M744.9 941.5h0M750.2 931.0h0M743.8 946.7h0M737.0 947.8h0M739.7 950.8h0M738.9 948.7h0M734.4 950.8h0M744.2 943.5h0M747.5 937.8h0M743.0 946.5h0M740.8 947.2h0M747.9 933.8h0M740.0 949.9h0M732.9 951.2h0M740.7 947.1h0M743.8 945.7h0M740.9 946.1h0M738.3 950.4h0M734.9 949.1h0M741.4 946.7h0M733.8 951.1h0M743.2 941.9h0M745.1 941.6h0M757.0 932.6h0M737.8 951.2h0M733.0 951.0h0M742.1 944.8h0M747.7 944.6h0M733.0 951.0h0M750.1 943.5h0M744.1 942.2h0M744.1 943.6h0M739.0 950.2h0M740.0 945.0h0M751.3 929.6h0M753.5 940.4h0M735.2 950.2h0M742.1 947.1h0M748.5 942.5h0M743.7 948.6h0M736.9 949.6h0M744.7 942.6h0M746.1 941.2h0M744.6 941.6h0M749.4 947.0h0M735.4 948.8h0M753.9 936.6h0M746.7 942.9h0M739.0 947.0h0M743.0 941.4h0M742.9 943.6h0M739.9 945.4h0M736.7 950.4h0M760.6 937.9h0M756.3 932.1h0M748.0 943.1h0M744.5 939.3h0M751.0 930.0h0M743.3 941.5h0M738.7 947.1h0M748.5 939.6h0M743.5 944.5h0M747.1 940.3h0M739.7 947.2h0M744.3 950.8h0M735.3 950.4h0M752.7 936.0h0M738.8 951.1h0M752.6 929.8h0M742.1 949.7h0M738.1 948.8h0M740.6 951.2h0M760.0 948.3h0M753.3 950.0h0M752.1 948.4h0M740.2 950.3h0M751.2 949.9h0M740.2 950.3h0M735.3 949.2h0M738.0 947.7h0M745.6 949.7h0M739.8 945.6h0M750.6 938.5h0M747.5 949.3h0M735.7 951.1h0M741.5 944.1h0M754.9 947.6h0M751.3 945.0h0M755.9 944.0h0M745.4 949.3h0M746.3 944.8h0M742.2 943.4h0M744.4 950.2h0M735.3 950.2h0M734.0 950.1h0M747.1 947.9h0M739.9 948.5h0M735.5 951.2h0M750.0 948.4h0M751.7 950.7h0M736.2 950.0h0M752.1 944.8h0M739.0 950.7h0M739.3 950.9h0M758.1 947.8h0M749.9 950.4h0M737.3 949.4h0M749.9 948.4h0M751.0 947.9h0M744.1 946.0h0M743.1 949.6h0M737.2 947.2h0M743.8 941.0h0M759.0 946.8h0M759.9 943.7h0M758.3 949.8h0M749.5 942.5h0M754.1 947.8h0M739.5 949.4h0M768.8 944.8h0M763.1 948.6h0M758.2 950.9h0M780.0 948.2h0M760.1 945.3h0M759.0 943.0h0M779.6 949.3h0M782.1 874.9h0M768.9 879.6h0M770.3 881.3h0M770.0 887.0h0M770.6 902.9h0M766.2 910.3h0M755.4 912.3h0M754.4 913.7h0M752.7 918.1h0M751.1 921.4h0M763.9 923.8h0M770.3 925.1h0M756.1 928.2h0M754.4 931.6h0M756.8 934.9h0M759.5 938.3h0M773.0 939.3h0M788.2 946.1h0M778.1 949.4h0M782.4 949.1h0" stroke="#ff0033" stroke-width="2.2" stroke-linecap="round" fill="none"/>
<path d="M586.5 951.3H798.0" stroke="#111" stroke-width="1.25" stroke-dasharray="1.6 2.7 5.6 2.7" fill="none"/>
<rect x="586.5" y="714.3" width="211.5" height="251.7" fill="none" stroke="#595959" stroke-width="1.3"/>
<path d="M587.0 900.0V950.8" stroke="#199e6e" stroke-width="1" stroke-opacity="0.4" stroke-dasharray="1.5 3" fill="none"/>
<path d="M587.0 951.8V956.0" stroke="#0a5acd" stroke-width="1" stroke-opacity="0.8" stroke-dasharray="" fill="none"/>
<path d="M797.5 935.0V950.8" stroke="#ff0033" stroke-width="1" stroke-opacity="0.4" stroke-dasharray="1.5 3" fill="none"/>
<path d="M797.5 951.8V955.6" stroke="#0a5acd" stroke-width="1" stroke-opacity="0.7" stroke-dasharray="" fill="none"/>
<path d="M615.0 966.0v4.6M668.0 966.0v4.6M721.0 966.0v4.6M774.0 966.0v4.6M586.5 796.2h-5M586.5 875.5h-5M586.5 951.3h-5M586.5 955.3h-5" stroke="#4d4d4d" stroke-width="1" fill="none"/>
<g class="tick">
<text x="615.0" y="982.5" text-anchor="middle">-10</text>
<text x="668.0" y="982.5" text-anchor="middle">-5</text>
<text x="721.0" y="982.5" text-anchor="middle">0</text>
<text x="774.0" y="982.5" text-anchor="middle">5</text>
<text x="578.0" y="800.1" text-anchor="end">56</text>
<text x="578.0" y="879.4" text-anchor="end">28</text>
<text x="578.0" y="955.2" text-anchor="end">1.3</text>
<text x="578.0" y="959.2" text-anchor="end">0</text>
</g>
<text class="ttl" x="695.1" y="704.8" text-anchor="middle">Δ<tspan class="it">AfStuA</tspan> vs WT</text>
<text class="axt" transform="translate(555.9 841.6) rotate(-90)" text-anchor="middle">−log<tspan font-size="9.8" dy="2.6">10</tspan><tspan dy="-2.6">(padj)</tspan></text>
<text class="axt" x="691.8" y="998.6" text-anchor="middle">log<tspan font-size="9.8" dy="2.6">2</tspan><tspan dy="-2.6">(fold change)</tspan></text>
</g>
</svg></body></html>
